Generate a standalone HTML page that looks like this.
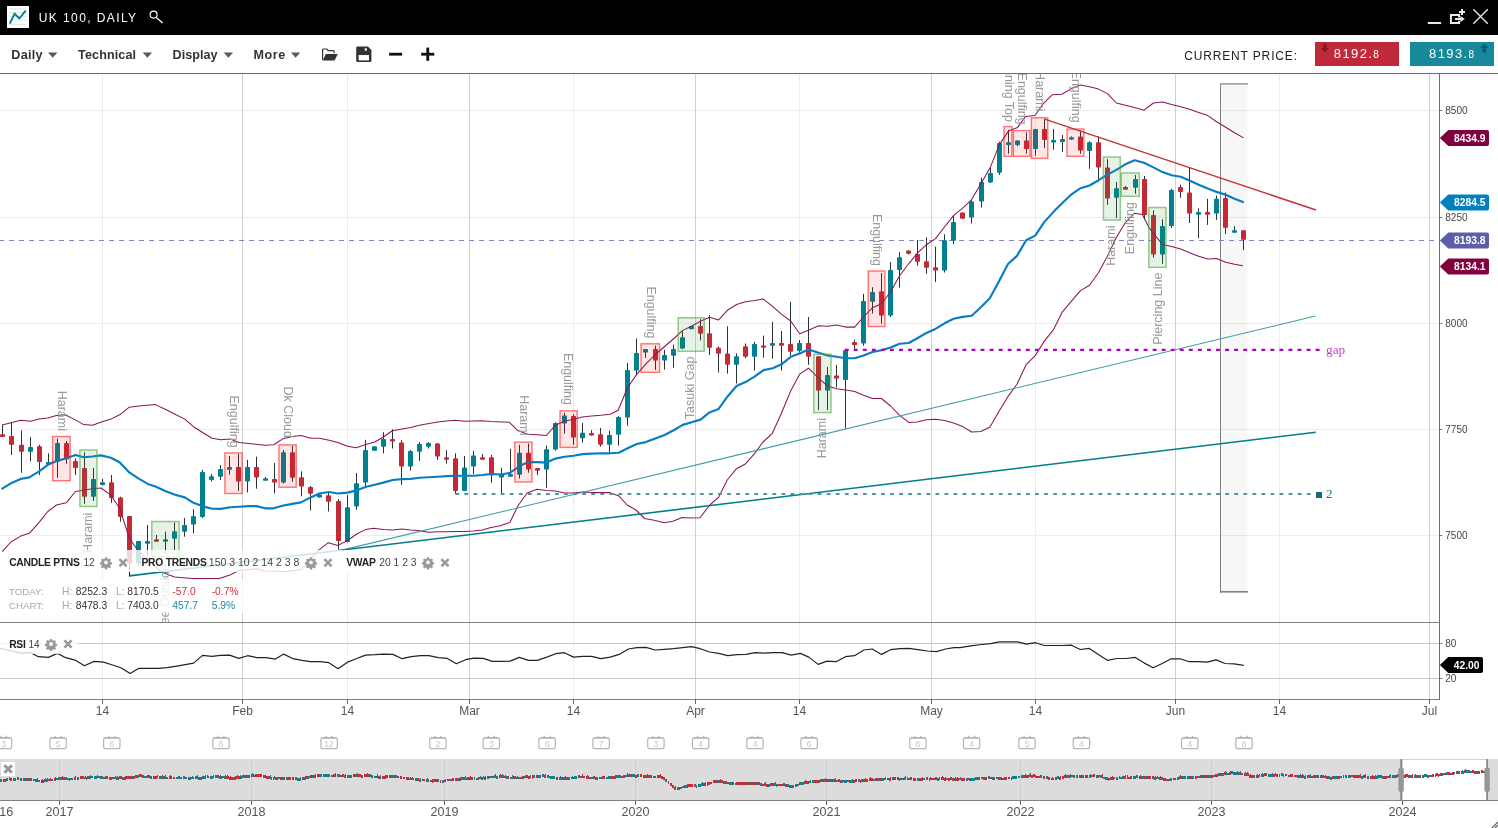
<!DOCTYPE html>
<html><head><meta charset="utf-8"><title>UK 100, DAILY</title>
<style>
html,body{margin:0;padding:0;background:#fff;}
body{width:1498px;height:828px;overflow:hidden;position:relative;font-family:"Liberation Sans",sans-serif;}
svg{position:absolute;left:0;top:0;display:block;will-change:transform;opacity:0.9999}
text{font-family:"Liberation Sans",sans-serif;}
.ser{font-family:"Liberation Serif",serif;}
</style></head><body>
<svg width="1498" height="828" viewBox="0 0 1498 828">
<defs>
<clipPath id="mainclip"><rect x="0" y="74" width="1440" height="548"/></clipPath>
<clipPath id="rsiclip"><rect x="0" y="623" width="1440" height="76"/></clipPath>
<g id="gear"><path transform="scale(0.82)" fill="#999" fill-rule="evenodd" d="M-1.2,-6.2h2.4l.4,1.7a4.6,4.6 0 0 1 1.3,.55l1.5,-.95 1.7,1.7-.95,1.5a4.6,4.6 0 0 1 .55,1.3l1.7,.4v2.4l-1.7,.4a4.6,4.6 0 0 1-.55,1.3l.95,1.5-1.7,1.7-1.5,-.95a4.6,4.6 0 0 1-1.3,.55l-.4,1.7h-2.4l-.4,-1.7a4.6,4.6 0 0 1-1.3,-.55l-1.5,.95-1.7,-1.7 .95,-1.5a4.6,4.6 0 0 1-.55,-1.3l-1.7,-.4v-2.4l1.7,-.4a4.6,4.6 0 0 1 .55,-1.3l-.95,-1.5 1.7,-1.7 1.5,.95a4.6,4.6 0 0 1 1.3,-.55zM0,-2.3a2.3,2.3 0 1 0 0,4.6a2.3,2.3 0 1 0 0,-4.6z"/></g>
<g id="xx"><path d="M-3.6,-3.6L3.6,3.6M3.6,-3.6L-3.6,3.6" stroke="#999" stroke-width="2.6" fill="none"/></g>
<g id="cal"><rect x="-8.2" y="-5.4" width="16.4" height="10.9" rx="2.2" ry="2.2" fill="#fff" stroke="#b6b6b6" stroke-width="1.2"/><path d="M-6.5,-5.2h13" stroke="#b6b6b6" stroke-width="1.8"/><path d="M-3,-5.5v-1.9M3,-5.5v-1.9" stroke="#b6b6b6" stroke-width="1.4"/></g>
</defs>

<rect x="0" y="0" width="1498" height="828" fill="#fff"/>
<rect x="0" y="110" width="1440" height="1" fill="#ededed"/>
<rect x="0" y="217" width="1440" height="1" fill="#ededed"/>
<rect x="0" y="323" width="1440" height="1" fill="#ededed"/>
<rect x="0" y="429" width="1440" height="1" fill="#ededed"/>
<rect x="0" y="535" width="1440" height="1" fill="#ededed"/>
<rect x="102" y="74" width="1" height="629" fill="#ededed"/>
<rect x="242" y="74" width="1" height="629" fill="#d0d0d0"/>
<rect x="347" y="74" width="1" height="629" fill="#ededed"/>
<rect x="469" y="74" width="1" height="629" fill="#d0d0d0"/>
<rect x="573" y="74" width="1" height="629" fill="#ededed"/>
<rect x="695" y="74" width="1" height="629" fill="#d0d0d0"/>
<rect x="799" y="74" width="1" height="629" fill="#ededed"/>
<rect x="931" y="74" width="1" height="629" fill="#d0d0d0"/>
<rect x="1035" y="74" width="1" height="629" fill="#ededed"/>
<rect x="1175" y="74" width="1" height="629" fill="#d0d0d0"/>
<rect x="1279" y="74" width="1" height="629" fill="#ededed"/>
<rect x="1429" y="74" width="1" height="629" fill="#d0d0d0"/>
<rect x="0" y="643" width="1440" height="1" fill="#c8c8c8"/>
<rect x="0" y="678" width="1440" height="1" fill="#c8c8c8"/>
<rect x="1220" y="83" width="27.5" height="509" fill="#000" fill-opacity="0.03"/>
<rect x="1220" y="83" width="1" height="510" fill="#808080"/>
<rect x="1220" y="83" width="27.9" height="1.8" fill="#a6a6a6"/>
<rect x="1220" y="591" width="27.9" height="1.6" fill="#808080"/>
<g clip-path="url(#mainclip)">
<line x1="-1" y1="240.5" x2="1434" y2="240.5" stroke="#8580c8" stroke-width="1.1" stroke-dasharray="5 5"/>
<rect x="2" y="424.6" width="1" height="11.9" fill="#2b3236"/>
<rect x="0" y="434.3" width="5" height="2.7" rx="0.7" fill="#c32a36"/>
<rect x="11" y="422.4" width="1" height="32.6" fill="#2b3236"/>
<rect x="9" y="436.0" width="5" height="8.8" rx="0.7" fill="#c32a36"/>
<rect x="21" y="430.4" width="1" height="42.4" fill="#2b3236"/>
<rect x="19" y="444.8" width="5" height="6.9" rx="0.7" fill="#c32a36"/>
<rect x="30" y="437.0" width="1" height="24.5" fill="#2b3236"/>
<rect x="28" y="447.0" width="5" height="4.7" rx="0.7" fill="#00808e"/>
<rect x="39" y="444.8" width="1" height="30.2" fill="#2b3236"/>
<rect x="37" y="446.3" width="5" height="15.7" rx="0.7" fill="#c32a36"/>
<rect x="48" y="453.3" width="1" height="11.9" fill="#2b3236"/>
<rect x="46" y="462.0" width="5" height="2.8" rx="0.7" fill="#00808e"/>
<rect x="57" y="438.7" width="1" height="39.1" fill="#2b3236"/>
<rect x="55" y="443.0" width="5" height="18.5" rx="0.7" fill="#00808e"/>
<rect x="66" y="440.9" width="1" height="22.8" fill="#2b3236"/>
<rect x="64" y="443.0" width="5" height="16.3" rx="0.7" fill="#c32a36"/>
<rect x="75" y="458.3" width="1" height="16.7" fill="#2b3236"/>
<rect x="73" y="461.0" width="5" height="7.0" rx="0.7" fill="#c32a36"/>
<rect x="84" y="452.4" width="1" height="51.5" fill="#2b3236"/>
<rect x="82" y="468.0" width="5" height="28.7" rx="0.7" fill="#c32a36"/>
<rect x="93" y="468.0" width="1" height="33.0" fill="#2b3236"/>
<rect x="91" y="479.0" width="5" height="17.7" rx="0.7" fill="#00808e"/>
<rect x="102" y="479.0" width="1" height="6.4" fill="#2b3236"/>
<rect x="100" y="482.2" width="5" height="2.8" rx="0.7" fill="#00808e"/>
<rect x="111" y="475.0" width="1" height="27.8" fill="#2b3236"/>
<rect x="109" y="482.2" width="5" height="15.8" rx="0.7" fill="#c32a36"/>
<rect x="120" y="496.7" width="1" height="25.0" fill="#2b3236"/>
<rect x="118" y="497.4" width="5" height="19.6" rx="0.7" fill="#c32a36"/>
<rect x="129" y="515.9" width="1" height="60.1" fill="#2b3236"/>
<rect x="127" y="515.9" width="5" height="47.5" rx="0.7" fill="#c32a36"/>
<rect x="138" y="540.9" width="1" height="25.1" fill="#2b3236"/>
<rect x="136" y="540.9" width="5" height="22.5" rx="0.7" fill="#00808e"/>
<rect x="147" y="525.0" width="1" height="30.9" fill="#2b3236"/>
<rect x="145" y="540.9" width="5" height="2.8" rx="0.7" fill="#00808e"/>
<rect x="156" y="535.0" width="1" height="6.7" fill="#2b3236"/>
<rect x="154" y="539.2" width="5" height="2.5" rx="0.7" fill="#c32a36"/>
<rect x="165" y="531.7" width="1" height="21.7" fill="#2b3236"/>
<rect x="163" y="539.2" width="5" height="2.5" rx="0.7" fill="#00808e"/>
<rect x="174" y="522.5" width="1" height="27.5" fill="#2b3236"/>
<rect x="172" y="531.2" width="5" height="7.5" rx="0.7" fill="#00808e"/>
<rect x="184" y="518.0" width="1" height="18.7" fill="#2b3236"/>
<rect x="182" y="525.0" width="5" height="6.7" rx="0.7" fill="#00808e"/>
<rect x="193" y="509.2" width="1" height="24.2" fill="#2b3236"/>
<rect x="191" y="516.2" width="5" height="8.3" rx="0.7" fill="#00808e"/>
<rect x="202" y="469.8" width="1" height="48.2" fill="#2b3236"/>
<rect x="200" y="472.0" width="5" height="45.0" rx="0.7" fill="#00808e"/>
<rect x="211" y="474.0" width="1" height="7.5" fill="#2b3236"/>
<rect x="209" y="476.3" width="5" height="3.7" rx="0.7" fill="#00808e"/>
<rect x="220" y="465.2" width="1" height="14.8" fill="#2b3236"/>
<rect x="218" y="469.0" width="5" height="7.7" rx="0.7" fill="#00808e"/>
<rect x="229" y="456.0" width="1" height="18.6" fill="#2b3236"/>
<rect x="227" y="467.0" width="5" height="2.8" rx="0.7" fill="#00808e"/>
<rect x="238" y="454.0" width="1" height="36.9" fill="#2b3236"/>
<rect x="236" y="467.0" width="5" height="14.5" rx="0.7" fill="#c32a36"/>
<rect x="247" y="459.8" width="1" height="32.6" fill="#2b3236"/>
<rect x="245" y="467.0" width="5" height="14.5" rx="0.7" fill="#00808e"/>
<rect x="256" y="456.7" width="1" height="32.0" fill="#2b3236"/>
<rect x="254" y="467.0" width="5" height="10.4" rx="0.7" fill="#c32a36"/>
<rect x="265" y="477.0" width="1" height="3.4" fill="#2b3236"/>
<rect x="263" y="478.3" width="5" height="2.4" rx="0.7" fill="#00808e"/>
<rect x="274" y="463.0" width="1" height="30.5" fill="#2b3236"/>
<rect x="272" y="479.0" width="5" height="3.6" rx="0.7" fill="#c32a36"/>
<rect x="283" y="450.0" width="1" height="33.7" fill="#2b3236"/>
<rect x="281" y="452.2" width="5" height="30.4" rx="0.7" fill="#00808e"/>
<rect x="292" y="445.9" width="1" height="35.8" fill="#2b3236"/>
<rect x="290" y="452.2" width="5" height="25.6" rx="0.7" fill="#c32a36"/>
<rect x="301" y="471.3" width="1" height="25.0" fill="#2b3236"/>
<rect x="299" y="477.2" width="5" height="9.3" rx="0.7" fill="#c32a36"/>
<rect x="310" y="486.0" width="1" height="24.4" fill="#2b3236"/>
<rect x="308" y="487.0" width="5" height="6.7" rx="0.7" fill="#c32a36"/>
<rect x="319" y="494.6" width="1" height="2.8" fill="#2b3236"/>
<rect x="317" y="494.6" width="5" height="2.8" rx="0.7" fill="#00808e"/>
<rect x="328" y="491.3" width="1" height="20.2" fill="#2b3236"/>
<rect x="326" y="495.2" width="5" height="6.5" rx="0.7" fill="#c32a36"/>
<rect x="338" y="499.0" width="1" height="50.6" fill="#2b3236"/>
<rect x="336" y="501.0" width="5" height="39.9" rx="0.7" fill="#c32a36"/>
<rect x="347" y="495.2" width="1" height="47.2" fill="#2b3236"/>
<rect x="345" y="507.2" width="5" height="34.8" rx="0.7" fill="#00808e"/>
<rect x="356" y="473.0" width="1" height="36.8" fill="#2b3236"/>
<rect x="354" y="483.3" width="5" height="23.2" rx="0.7" fill="#00808e"/>
<rect x="365" y="439.8" width="1" height="46.1" fill="#2b3236"/>
<rect x="363" y="450.0" width="5" height="32.6" rx="0.7" fill="#00808e"/>
<rect x="374" y="446.3" width="1" height="4.4" fill="#2b3236"/>
<rect x="372" y="446.3" width="5" height="4.4" rx="0.7" fill="#00808e"/>
<rect x="383" y="432.2" width="1" height="21.1" fill="#2b3236"/>
<rect x="381" y="439.0" width="5" height="7.7" rx="0.7" fill="#00808e"/>
<rect x="392" y="429.3" width="1" height="19.2" fill="#2b3236"/>
<rect x="390" y="439.0" width="5" height="2.5" rx="0.7" fill="#c32a36"/>
<rect x="401" y="440.2" width="1" height="44.6" fill="#2b3236"/>
<rect x="399" y="442.4" width="5" height="24.1" rx="0.7" fill="#c32a36"/>
<rect x="410" y="450.0" width="1" height="20.7" fill="#2b3236"/>
<rect x="408" y="451.0" width="5" height="15.5" rx="0.7" fill="#00808e"/>
<rect x="419" y="442.0" width="1" height="18.9" fill="#2b3236"/>
<rect x="417" y="444.0" width="5" height="7.7" rx="0.7" fill="#00808e"/>
<rect x="428" y="442.0" width="1" height="6.5" fill="#2b3236"/>
<rect x="426" y="443.0" width="5" height="3.7" rx="0.7" fill="#00808e"/>
<rect x="437" y="443.0" width="1" height="16.8" fill="#2b3236"/>
<rect x="435" y="443.5" width="5" height="13.0" rx="0.7" fill="#c32a36"/>
<rect x="446" y="450.2" width="1" height="13.5" fill="#2b3236"/>
<rect x="444" y="457.2" width="5" height="2.6" rx="0.7" fill="#c32a36"/>
<rect x="455" y="453.3" width="1" height="40.7" fill="#2b3236"/>
<rect x="453" y="458.3" width="5" height="32.6" rx="0.7" fill="#c32a36"/>
<rect x="464" y="456.0" width="1" height="34.9" fill="#2b3236"/>
<rect x="462" y="467.4" width="5" height="23.5" rx="0.7" fill="#00808e"/>
<rect x="473" y="451.0" width="1" height="23.0" fill="#2b3236"/>
<rect x="471" y="455.4" width="5" height="11.1" rx="0.7" fill="#00808e"/>
<rect x="482" y="454.0" width="1" height="5.3" fill="#2b3236"/>
<rect x="480" y="457.2" width="5" height="2.6" rx="0.7" fill="#c32a36"/>
<rect x="491" y="454.9" width="1" height="27.9" fill="#2b3236"/>
<rect x="489" y="457.3" width="5" height="18.0" rx="0.7" fill="#c32a36"/>
<rect x="501" y="467.9" width="1" height="26.1" fill="#2b3236"/>
<rect x="499" y="474.0" width="5" height="3.5" rx="0.7" fill="#00808e"/>
<rect x="510" y="448.8" width="1" height="27.9" fill="#2b3236"/>
<rect x="508" y="474.0" width="5" height="2.7" rx="0.7" fill="#00808e"/>
<rect x="519" y="444.8" width="1" height="33.7" fill="#2b3236"/>
<rect x="517" y="452.8" width="5" height="22.0" rx="0.7" fill="#00808e"/>
<rect x="528" y="443.5" width="1" height="29.2" fill="#2b3236"/>
<rect x="526" y="452.8" width="5" height="16.7" rx="0.7" fill="#c32a36"/>
<rect x="537" y="467.9" width="1" height="7.4" fill="#2b3236"/>
<rect x="535" y="467.9" width="5" height="2.9" rx="0.7" fill="#c32a36"/>
<rect x="546" y="445.6" width="1" height="42.2" fill="#2b3236"/>
<rect x="544" y="449.3" width="5" height="20.2" rx="0.7" fill="#00808e"/>
<rect x="555" y="422.2" width="1" height="28.4" fill="#2b3236"/>
<rect x="553" y="423.0" width="5" height="26.6" rx="0.7" fill="#00808e"/>
<rect x="564" y="412.9" width="1" height="20.7" fill="#2b3236"/>
<rect x="562" y="415.6" width="5" height="7.9" rx="0.7" fill="#00808e"/>
<rect x="573" y="414.2" width="1" height="30.6" fill="#2b3236"/>
<rect x="571" y="416.1" width="5" height="21.5" rx="0.7" fill="#c32a36"/>
<rect x="582" y="423.0" width="1" height="19.7" fill="#2b3236"/>
<rect x="580" y="432.8" width="5" height="5.4" rx="0.7" fill="#00808e"/>
<rect x="591" y="430.2" width="1" height="5.3" fill="#2b3236"/>
<rect x="589" y="433.1" width="5" height="2.4" rx="0.7" fill="#c32a36"/>
<rect x="600" y="428.0" width="1" height="18.7" fill="#2b3236"/>
<rect x="598" y="434.2" width="5" height="10.6" rx="0.7" fill="#c32a36"/>
<rect x="609" y="430.7" width="1" height="22.6" fill="#2b3236"/>
<rect x="607" y="435.0" width="5" height="9.8" rx="0.7" fill="#00808e"/>
<rect x="618" y="416.1" width="1" height="29.5" fill="#2b3236"/>
<rect x="616" y="416.9" width="5" height="17.8" rx="0.7" fill="#00808e"/>
<rect x="627" y="363.0" width="1" height="62.7" fill="#2b3236"/>
<rect x="625" y="369.9" width="5" height="47.5" rx="0.7" fill="#00808e"/>
<rect x="636" y="338.5" width="1" height="36.4" fill="#2b3236"/>
<rect x="634" y="353.1" width="5" height="17.3" rx="0.7" fill="#00808e"/>
<rect x="645" y="349.1" width="1" height="8.8" fill="#2b3236"/>
<rect x="643" y="349.1" width="5" height="3.5" rx="0.7" fill="#00808e"/>
<rect x="655" y="345.7" width="1" height="24.2" fill="#2b3236"/>
<rect x="653" y="349.1" width="5" height="11.5" rx="0.7" fill="#c32a36"/>
<rect x="664" y="349.9" width="1" height="19.7" fill="#2b3236"/>
<rect x="662" y="355.0" width="5" height="5.6" rx="0.7" fill="#00808e"/>
<rect x="673" y="344.6" width="1" height="23.1" fill="#2b3236"/>
<rect x="671" y="349.1" width="5" height="6.7" rx="0.7" fill="#00808e"/>
<rect x="682" y="331.3" width="1" height="17.8" fill="#2b3236"/>
<rect x="680" y="337.2" width="5" height="11.4" rx="0.7" fill="#00808e"/>
<rect x="691" y="326.0" width="1" height="3.2" fill="#2b3236"/>
<rect x="689" y="326.0" width="5" height="3.2" rx="0.7" fill="#00808e"/>
<rect x="700" y="319.1" width="1" height="21.3" fill="#2b3236"/>
<rect x="698" y="326.0" width="5" height="7.7" rx="0.7" fill="#c32a36"/>
<rect x="709" y="315.1" width="1" height="39.9" fill="#2b3236"/>
<rect x="707" y="333.2" width="5" height="14.6" rx="0.7" fill="#c32a36"/>
<rect x="718" y="346.5" width="1" height="26.0" fill="#2b3236"/>
<rect x="716" y="347.8" width="5" height="5.9" rx="0.7" fill="#c32a36"/>
<rect x="727" y="326.3" width="1" height="47.3" fill="#2b3236"/>
<rect x="725" y="353.4" width="5" height="11.4" rx="0.7" fill="#c32a36"/>
<rect x="736" y="353.4" width="1" height="30.0" fill="#2b3236"/>
<rect x="734" y="356.3" width="5" height="8.5" rx="0.7" fill="#00808e"/>
<rect x="745" y="343.5" width="1" height="14.7" fill="#2b3236"/>
<rect x="743" y="346.2" width="5" height="10.6" rx="0.7" fill="#c32a36"/>
<rect x="754" y="341.7" width="1" height="28.9" fill="#2b3236"/>
<rect x="752" y="344.0" width="5" height="12.8" rx="0.7" fill="#00808e"/>
<rect x="763" y="335.6" width="1" height="22.0" fill="#2b3236"/>
<rect x="761" y="345.4" width="5" height="2.4" rx="0.7" fill="#c32a36"/>
<rect x="772" y="321.8" width="1" height="36.9" fill="#2b3236"/>
<rect x="770" y="343.0" width="5" height="2.7" rx="0.7" fill="#00808e"/>
<rect x="781" y="331.0" width="1" height="39.6" fill="#2b3236"/>
<rect x="779" y="343.0" width="5" height="2.7" rx="0.7" fill="#c32a36"/>
<rect x="790" y="301.8" width="1" height="53.7" fill="#2b3236"/>
<rect x="788" y="344.0" width="5" height="7.8" rx="0.7" fill="#c32a36"/>
<rect x="799" y="340.0" width="1" height="12.8" fill="#2b3236"/>
<rect x="797" y="343.0" width="5" height="8.0" rx="0.7" fill="#00808e"/>
<rect x="808" y="317.0" width="1" height="47.8" fill="#2b3236"/>
<rect x="806" y="343.0" width="5" height="13.8" rx="0.7" fill="#c32a36"/>
<rect x="818" y="356.3" width="1" height="53.7" fill="#2b3236"/>
<rect x="816" y="356.3" width="5" height="34.3" rx="0.7" fill="#c32a36"/>
<rect x="827" y="366.9" width="1" height="43.1" fill="#2b3236"/>
<rect x="825" y="374.9" width="5" height="15.7" rx="0.7" fill="#00808e"/>
<rect x="836" y="364.8" width="1" height="22.6" fill="#2b3236"/>
<rect x="834" y="375.4" width="5" height="3.2" rx="0.7" fill="#c32a36"/>
<rect x="845" y="350.2" width="1" height="78.4" fill="#2b3236"/>
<rect x="843" y="350.2" width="5" height="29.7" rx="0.7" fill="#00808e"/>
<rect x="854" y="339.6" width="1" height="10.6" fill="#2b3236"/>
<rect x="852" y="341.9" width="5" height="3.0" rx="0.7" fill="#c32a36"/>
<rect x="863" y="293.9" width="1" height="51.8" fill="#2b3236"/>
<rect x="861" y="301.0" width="5" height="42.5" rx="0.7" fill="#00808e"/>
<rect x="872" y="287.2" width="1" height="26.3" fill="#2b3236"/>
<rect x="870" y="292.0" width="5" height="9.8" rx="0.7" fill="#00808e"/>
<rect x="881" y="273.1" width="1" height="50.5" fill="#2b3236"/>
<rect x="879" y="291.2" width="5" height="24.4" rx="0.7" fill="#c32a36"/>
<rect x="890" y="262.0" width="1" height="55.0" fill="#2b3236"/>
<rect x="888" y="270.0" width="5" height="45.6" rx="0.7" fill="#00808e"/>
<rect x="899" y="251.9" width="1" height="35.8" fill="#2b3236"/>
<rect x="897" y="257.2" width="5" height="12.8" rx="0.7" fill="#00808e"/>
<rect x="908" y="250.6" width="1" height="3.9" fill="#2b3236"/>
<rect x="906" y="250.6" width="5" height="3.1" rx="0.7" fill="#c32a36"/>
<rect x="917" y="239.9" width="1" height="25.8" fill="#2b3236"/>
<rect x="915" y="254.0" width="5" height="7.7" rx="0.7" fill="#c32a36"/>
<rect x="926" y="237.3" width="1" height="36.6" fill="#2b3236"/>
<rect x="924" y="261.2" width="5" height="6.6" rx="0.7" fill="#c32a36"/>
<rect x="935" y="246.6" width="1" height="35.3" fill="#2b3236"/>
<rect x="933" y="267.3" width="5" height="3.2" rx="0.7" fill="#c32a36"/>
<rect x="944" y="234.3" width="1" height="38.2" fill="#2b3236"/>
<rect x="942" y="240.3" width="5" height="30.2" rx="0.7" fill="#00808e"/>
<rect x="953" y="215.5" width="1" height="28.5" fill="#2b3236"/>
<rect x="951" y="221.9" width="5" height="18.9" rx="0.7" fill="#00808e"/>
<rect x="962" y="212.6" width="1" height="6.1" fill="#2b3236"/>
<rect x="960" y="212.6" width="5" height="6.1" rx="0.7" fill="#c32a36"/>
<rect x="971" y="199.6" width="1" height="23.9" fill="#2b3236"/>
<rect x="969" y="201.5" width="5" height="15.9" rx="0.7" fill="#00808e"/>
<rect x="981" y="177.6" width="1" height="30.0" fill="#2b3236"/>
<rect x="979" y="182.0" width="5" height="19.5" rx="0.7" fill="#00808e"/>
<rect x="990" y="167.7" width="1" height="15.2" fill="#2b3236"/>
<rect x="988" y="173.0" width="5" height="9.4" rx="0.7" fill="#00808e"/>
<rect x="999" y="141.7" width="1" height="33.2" fill="#2b3236"/>
<rect x="997" y="143.0" width="5" height="29.8" rx="0.7" fill="#00808e"/>
<rect x="1008" y="129.8" width="1" height="23.9" fill="#2b3236"/>
<rect x="1006" y="142.2" width="5" height="2.7" rx="0.7" fill="#00808e"/>
<rect x="1017" y="140.4" width="1" height="5.8" fill="#2b3236"/>
<rect x="1015" y="140.4" width="5" height="4.5" rx="0.7" fill="#00808e"/>
<rect x="1026" y="132.4" width="1" height="21.3" fill="#2b3236"/>
<rect x="1024" y="140.4" width="5" height="8.5" rx="0.7" fill="#c32a36"/>
<rect x="1035" y="129.0" width="1" height="26.5" fill="#2b3236"/>
<rect x="1033" y="129.0" width="5" height="19.9" rx="0.7" fill="#00808e"/>
<rect x="1044" y="119.1" width="1" height="28.7" fill="#2b3236"/>
<rect x="1042" y="129.0" width="5" height="10.9" rx="0.7" fill="#c32a36"/>
<rect x="1053" y="129.0" width="1" height="20.7" fill="#2b3236"/>
<rect x="1051" y="140.1" width="5" height="2.4" rx="0.7" fill="#00808e"/>
<rect x="1062" y="135.1" width="1" height="16.7" fill="#2b3236"/>
<rect x="1060" y="139.0" width="5" height="3.0" rx="0.7" fill="#00808e"/>
<rect x="1071" y="136.4" width="1" height="3.6" fill="#2b3236"/>
<rect x="1069" y="137.2" width="5" height="2.4" rx="0.7" fill="#00808e"/>
<rect x="1080" y="130.6" width="1" height="23.1" fill="#2b3236"/>
<rect x="1078" y="136.4" width="5" height="14.1" rx="0.7" fill="#c32a36"/>
<rect x="1089" y="141.2" width="1" height="27.6" fill="#2b3236"/>
<rect x="1087" y="142.2" width="5" height="8.8" rx="0.7" fill="#00808e"/>
<rect x="1098" y="136.4" width="1" height="45.2" fill="#2b3236"/>
<rect x="1096" y="142.2" width="5" height="25.3" rx="0.7" fill="#c32a36"/>
<rect x="1107" y="159.2" width="1" height="45.6" fill="#2b3236"/>
<rect x="1105" y="167.4" width="5" height="31.1" rx="0.7" fill="#c32a36"/>
<rect x="1116" y="182.0" width="1" height="36.0" fill="#2b3236"/>
<rect x="1114" y="188.3" width="5" height="9.4" rx="0.7" fill="#00808e"/>
<rect x="1125" y="186.0" width="1" height="3.8" fill="#2b3236"/>
<rect x="1123" y="186.9" width="5" height="2.9" rx="0.7" fill="#c32a36"/>
<rect x="1135" y="175.0" width="1" height="18.8" fill="#2b3236"/>
<rect x="1133" y="179.0" width="5" height="8.8" rx="0.7" fill="#00808e"/>
<rect x="1144" y="175.9" width="1" height="44.0" fill="#2b3236"/>
<rect x="1142" y="179.0" width="5" height="36.1" rx="0.7" fill="#c32a36"/>
<rect x="1153" y="210.4" width="1" height="47.2" fill="#2b3236"/>
<rect x="1151" y="215.1" width="5" height="39.3" rx="0.7" fill="#c32a36"/>
<rect x="1162" y="219.2" width="1" height="44.6" fill="#2b3236"/>
<rect x="1160" y="226.1" width="5" height="28.3" rx="0.7" fill="#00808e"/>
<rect x="1171" y="188.8" width="1" height="39.2" fill="#2b3236"/>
<rect x="1169" y="190.0" width="5" height="36.1" rx="0.7" fill="#00808e"/>
<rect x="1180" y="184.7" width="1" height="13.2" fill="#2b3236"/>
<rect x="1178" y="186.9" width="5" height="5.0" rx="0.7" fill="#c32a36"/>
<rect x="1189" y="168.0" width="1" height="55.0" fill="#2b3236"/>
<rect x="1187" y="192.5" width="5" height="21.1" rx="0.7" fill="#c32a36"/>
<rect x="1198" y="208.2" width="1" height="29.9" fill="#2b3236"/>
<rect x="1196" y="212.0" width="5" height="2.8" rx="0.7" fill="#00808e"/>
<rect x="1207" y="198.8" width="1" height="26.1" fill="#2b3236"/>
<rect x="1205" y="212.0" width="5" height="2.8" rx="0.7" fill="#c32a36"/>
<rect x="1216" y="195.7" width="1" height="24.2" fill="#2b3236"/>
<rect x="1214" y="198.8" width="5" height="14.8" rx="0.7" fill="#00808e"/>
<rect x="1225" y="192.5" width="1" height="41.5" fill="#2b3236"/>
<rect x="1223" y="197.9" width="5" height="29.8" rx="0.7" fill="#c32a36"/>
<rect x="1234" y="226.1" width="1" height="6.6" fill="#2b3236"/>
<rect x="1232" y="230.2" width="5" height="2.5" rx="0.7" fill="#00808e"/>
<rect x="1243" y="230.2" width="1" height="19.8" fill="#2b3236"/>
<rect x="1241" y="230.2" width="5" height="9.5" rx="0.7" fill="#c32a36"/>
<polyline points="2.2,488.7 10.9,483.3 20.7,478.9 29.3,477.4 39.1,471.3 47.8,464.8 56.5,461.1 66.3,458.3 75.4,455.0 83.7,457.2 92.4,456.5 101.1,455.4 110.9,457.8 119.6,462.2 129.3,472.4 139.1,478.9 147.8,483.9 155.4,486.5 165.2,490.9 175.0,494.8 184.8,497.4 193.5,502.8 202.2,506.1 212.0,508.7 220.7,508.9 230.4,507.2 239.1,506.7 248.7,506.1 256.3,506.1 265.0,508.3 273.7,508.3 282.4,505.7 292.2,503.9 300.9,502.4 310.7,497.4 319.3,493.5 329.1,492.0 337.8,493.5 347.6,492.6 356.3,490.4 365.4,487.0 374.8,484.8 383.5,482.6 392.6,480.0 402.0,479.1 410.7,478.9 419.6,477.8 428.5,477.2 437.8,476.7 446.5,476.1 455.4,475.7 464.6,475.7 473.5,475.7 482.4,475.0 491.4,474.0 501.5,474.5 510.3,472.7 519.6,466.0 528.4,462.1 537.4,462.1 546.4,462.6 555.5,458.6 564.5,456.7 573.5,455.7 582.6,454.1 591.6,453.6 600.6,453.3 609.7,453.3 618.7,452.8 627.7,448.2 636.7,444.0 645.8,442.1 655.9,438.2 664.6,435.0 673.7,430.2 682.7,424.9 691.7,422.2 700.5,419.6 709.5,412.4 718.6,408.9 727.4,396.7 736.5,386.0 745.5,382.1 754.5,376.7 763.6,370.1 772.6,368.2 781.6,364.3 790.7,356.8 799.7,353.6 808.5,349.6 818.6,352.8 827.6,355.5 836.6,356.8 845.7,358.2 854.7,358.2 863.5,355.5 872.5,352.0 881.5,350.2 890.6,347.5 899.6,343.8 908.6,343.0 917.4,338.2 926.4,332.9 935.5,328.9 944.5,323.3 953.6,318.7 962.7,316.9 971.7,315.7 980.8,307.3 989.8,298.2 998.9,281.6 1008.0,264.0 1017.0,255.9 1026.1,240.2 1035.2,235.6 1044.2,222.1 1053.3,212.1 1062.4,203.0 1071.5,194.3 1080.5,188.2 1089.5,185.5 1098.6,180.2 1107.5,174.6 1116.3,169.9 1125.4,164.3 1134.6,160.2 1144.0,162.7 1153.4,167.4 1162.5,172.1 1171.6,175.2 1180.7,176.8 1189.5,180.6 1198.6,184.7 1207.8,188.4 1216.6,191.9 1225.7,194.7 1234.5,198.8 1243.0,202.0" fill="none" stroke="#087dc3" stroke-width="2.15" stroke-linejoin="round" stroke-linecap="round"/>
<polyline points="2.2,425.0 20.7,420.2 30.4,421.3 39.1,419.1 47.8,418.0 56.5,415.4 65.2,414.8 73.9,419.1 83.7,424.6 92.4,425.2 102.2,421.7 110.9,419.1 119.6,414.8 129.3,407.2 141.3,405.7 155.4,404.6 165.2,409.3 175.0,414.3 184.8,419.1 193.5,426.7 202.2,432.2 212.0,438.3 220.7,439.8 230.4,439.1 239.1,442.4 248.7,443.5 265.0,445.2 273.7,444.8 282.4,439.1 292.2,436.5 300.9,435.4 310.7,438.3 319.3,438.3 329.1,440.2 337.8,442.6 347.6,446.3 356.3,447.8 365.0,444.8 374.8,442.0 383.5,437.0 392.2,430.7 402.0,428.9 410.7,427.4 419.3,425.2 429.1,423.5 437.8,422.0 446.5,420.9 455.2,420.2 465.0,421.3 473.7,420.9 482.4,420.7 490.6,421.4 509.2,422.2 517.2,430.2 527.8,434.2 537.1,434.7 546.4,435.5 555.7,424.9 565.0,420.9 573.0,419.6 582.3,416.9 591.6,416.1 600.9,415.3 610.2,414.2 618.2,410.3 627.5,387.7 636.7,374.4 646.0,363.8 655.3,354.5 664.6,346.5 673.9,338.5 682.4,330.6 691.7,326.0 700.5,321.3 709.5,317.3 718.6,319.9 727.4,310.3 736.5,304.5 745.5,301.8 754.5,300.5 763.0,298.9 772.6,306.3 781.6,314.3 790.7,321.0 799.7,333.7 808.5,330.3 818.6,325.7 827.6,326.3 836.6,324.9 845.7,327.1 854.7,327.1 863.5,317.0 872.5,307.7 881.5,303.7 890.6,291.7 899.6,275.8 908.6,263.8 917.4,253.2 926.4,244.7 935.5,238.6 944.5,227.0 953.5,215.6 962.6,208.1 971.3,200.1 981.4,182.9 990.5,166.9 999.5,144.4 1008.5,131.1 1017.6,127.4 1025.6,116.4 1035.0,115.5 1043.6,103.3 1052.4,94.7 1061.8,94.2 1071.5,88.6 1080.5,85.1 1089.5,86.7 1098.6,89.1 1107.5,93.6 1116.3,103.0 1125.4,105.2 1135.5,107.7 1144.0,110.2 1153.4,103.0 1162.5,102.0 1171.6,104.6 1180.7,106.8 1189.5,109.3 1198.6,112.4 1207.8,115.6 1216.6,121.8 1225.7,127.2 1234.5,132.8 1243.6,137.9" fill="none" stroke="#8a1759" stroke-width="1.05" stroke-linejoin="round"/>
<polyline points="2.2,551.7 10.9,542.0 20.7,536.1 29.3,533.3 39.1,522.4 47.8,511.5 56.5,505.0 66.3,502.8 75.4,491.5 83.7,490.2 92.4,488.7 101.1,488.0 110.9,495.2 119.6,508.3 129.3,538.0 136.0,547.8 147.2,559.0 156.0,567.0 161.7,571.9 174.5,577.0 192.1,578.6 219.4,578.6 230.6,574.7 238.6,570.6 256.2,568.7 264.2,571.1 285.1,571.5 301.1,569.5 310.7,559.0 318.7,550.2 328.3,542.7 337.9,545.4 347.6,540.5 356.3,534.3 365.4,529.6 373.7,528.3 383.5,529.6 392.6,530.0 402.0,528.9 410.7,530.0 419.6,530.7 428.5,532.2 437.8,531.7 446.5,531.7 455.4,531.5 464.6,531.5 473.5,531.1 482.4,530.0 490.0,527.8 500.0,525.7 509.8,522.4 518.5,505.0 527.2,493.0 537.0,489.3 546.3,490.4 555.4,490.9 564.6,493.0 573.5,493.0 582.6,492.0 591.3,492.6 600.4,492.6 609.3,492.6 618.5,495.7 627.2,505.0 635.9,510.0 644.6,518.5 654.3,520.2 664.1,522.8 672.8,521.3 682.2,517.4 691.3,518.0 700.0,517.8 709.8,505.0 718.5,497.4 727.2,480.0 736.5,468.7 745.7,463.7 754.3,453.9 763.0,442.0 772.4,433.3 781.5,413.0 790.7,391.0 799.7,374.1 808.5,368.2 818.6,378.1 827.6,386.0 836.6,388.7 845.7,390.0 854.7,391.4 863.5,395.3 872.5,398.5 881.5,398.5 890.6,406.0 899.6,415.3 908.6,422.4 917.4,421.9 926.4,419.8 935.5,419.3 944.5,420.5 953.6,423.0 962.7,426.6 971.7,432.0 980.8,431.4 989.8,427.2 998.9,411.5 1008.0,396.4 1017.0,384.3 1026.1,364.7 1035.2,355.6 1044.2,341.4 1053.3,329.9 1062.4,311.8 1071.4,301.2 1080.5,290.6 1089.5,285.2 1098.6,272.5 1107.5,256.0 1116.3,237.5 1125.4,222.5 1134.6,213.2 1142.4,214.5 1148.7,227.1 1153.4,233.4 1162.5,244.4 1171.6,246.6 1180.7,249.1 1189.5,252.8 1198.6,256.3 1207.8,259.1 1216.6,258.5 1225.7,262.3 1234.5,264.2 1243.0,265.7" fill="none" stroke="#8a1759" stroke-width="1.05" stroke-linejoin="round"/>
<rect x="52.7" y="436.5" width="17.4" height="44.2" fill="rgba(255,0,0,0.10)" stroke="rgba(255,20,20,0.58)" stroke-width="1.4"/>
<rect x="79.9" y="450.0" width="17.0" height="56.5" fill="rgba(60,150,50,0.12)" stroke="rgba(80,170,70,0.62)" stroke-width="1.5"/>
<rect x="151.8" y="521.5" width="27.3" height="35.2" fill="rgba(60,150,50,0.12)" stroke="rgba(80,170,70,0.62)" stroke-width="1.5"/>
<rect x="224.9" y="452.9" width="17.2" height="40.6" fill="rgba(255,0,0,0.10)" stroke="rgba(255,20,20,0.58)" stroke-width="1.4"/>
<rect x="279.0" y="444.9" width="17.2" height="42.3" fill="rgba(255,0,0,0.10)" stroke="rgba(255,20,20,0.58)" stroke-width="1.4"/>
<rect x="514.8" y="442.1" width="17.2" height="39.9" fill="rgba(255,0,0,0.10)" stroke="rgba(255,20,20,0.58)" stroke-width="1.4"/>
<rect x="560.0" y="410.8" width="17.2" height="36.6" fill="rgba(255,0,0,0.10)" stroke="rgba(255,20,20,0.58)" stroke-width="1.4"/>
<rect x="641.0" y="343.8" width="18.6" height="28.5" fill="rgba(255,0,0,0.10)" stroke="rgba(255,20,20,0.58)" stroke-width="1.4"/>
<rect x="678.2" y="317.8" width="26.0" height="33.5" fill="rgba(60,150,50,0.12)" stroke="rgba(80,170,70,0.62)" stroke-width="1.5"/>
<rect x="813.8" y="354.2" width="17.2" height="58.4" fill="rgba(60,150,50,0.12)" stroke="rgba(80,170,70,0.62)" stroke-width="1.5"/>
<rect x="868.2" y="271.0" width="16.7" height="55.5" fill="rgba(255,0,0,0.10)" stroke="rgba(255,20,20,0.58)" stroke-width="1.4"/>
<rect x="1004.0" y="126.6" width="7.9" height="29.7" fill="rgba(255,0,0,0.10)" stroke="rgba(255,20,20,0.58)" stroke-width="1.4"/>
<rect x="1013.3" y="130.6" width="16.7" height="25.7" fill="rgba(255,0,0,0.10)" stroke="rgba(255,20,20,0.58)" stroke-width="1.4"/>
<rect x="1031.4" y="117.8" width="16.4" height="40.6" fill="rgba(255,0,0,0.10)" stroke="rgba(255,20,20,0.58)" stroke-width="1.4"/>
<rect x="1067.0" y="129.0" width="16.9" height="27.3" fill="rgba(255,0,0,0.10)" stroke="rgba(255,20,20,0.58)" stroke-width="1.4"/>
<rect x="1103.4" y="157.1" width="16.9" height="62.9" fill="rgba(60,150,50,0.12)" stroke="rgba(80,170,70,0.62)" stroke-width="1.5"/>
<rect x="1121.2" y="173.0" width="18.1" height="23.3" fill="rgba(60,150,50,0.12)" stroke="rgba(80,170,70,0.62)" stroke-width="1.5"/>
<rect x="1148.8" y="207.5" width="17.2" height="59.8" fill="rgba(60,150,50,0.12)" stroke="rgba(80,170,70,0.62)" stroke-width="1.5"/>
<text transform="translate(57.7,431.0) rotate(90)" text-anchor="end" font-size="12.5" fill="#9a9a9a">Harami</text>
<text transform="translate(92.3,512.6) rotate(-90)" text-anchor="end" font-size="12.5" fill="#9a9a9a">Harami</text>
<text transform="translate(168.7,564.0) rotate(-90)" text-anchor="end" font-size="12.5" fill="#9a9a9a">Three Outside</text>
<text transform="translate(230.2,447.6) rotate(90)" text-anchor="end" font-size="12.5" fill="#9a9a9a">Engulfing</text>
<text transform="translate(284.0,437.9) rotate(90)" text-anchor="end" font-size="12.5" fill="#9a9a9a">Dk Cloud</text>
<text transform="translate(519.5,435.5) rotate(90)" text-anchor="end" font-size="12.5" fill="#9a9a9a">Harami</text>
<text transform="translate(564.2,405.0) rotate(90)" text-anchor="end" font-size="12.5" fill="#9a9a9a">Engulfing</text>
<text transform="translate(646.9,338.5) rotate(90)" text-anchor="end" font-size="12.5" fill="#9a9a9a">Engulfing</text>
<text transform="translate(694.1,356.6) rotate(-90)" text-anchor="end" font-size="12.5" fill="#9a9a9a">Tasuki Gap</text>
<text transform="translate(826.3,418.0) rotate(-90)" text-anchor="end" font-size="12.5" fill="#9a9a9a">Harami</text>
<text transform="translate(872.7,266.0) rotate(90)" text-anchor="end" font-size="12.5" fill="#9a9a9a">Engulfing</text>
<text transform="translate(1005.2,122.0) rotate(90)" text-anchor="end" font-size="12.5" fill="#9a9a9a">Spinning Top</text>
<text transform="translate(1017.9,124.7) rotate(90)" text-anchor="end" font-size="12.5" fill="#9a9a9a">Engulfing</text>
<text transform="translate(1035.7,111.4) rotate(90)" text-anchor="end" font-size="12.5" fill="#9a9a9a">Harami</text>
<text transform="translate(1071.8,122.7) rotate(90)" text-anchor="end" font-size="12.5" fill="#9a9a9a">Engulfing</text>
<text transform="translate(1115.3,225.5) rotate(-90)" text-anchor="end" font-size="12.5" fill="#9a9a9a">Harami</text>
<text transform="translate(1134.1,202.0) rotate(-90)" text-anchor="end" font-size="12.5" fill="#9a9a9a">Engulfing</text>
<text transform="translate(1162.3,272.6) rotate(-90)" text-anchor="end" font-size="12.5" fill="#9a9a9a">Piercing Line</text>
<line x1="340" y1="550.6" x2="1315.5" y2="316" stroke="#3d9ba6" stroke-width="1.1"/>
<line x1="129.3" y1="575.9" x2="1315.8" y2="432.2" stroke="#007d8c" stroke-width="1.6"/>
<line x1="129.5" y1="563" x2="129.5" y2="576.5" stroke="#222" stroke-width="1"/>
<line x1="455.4" y1="494" x2="1312" y2="494" stroke="#4a98a0" stroke-width="2" stroke-dasharray="3.8 5.257"/>
<rect x="1316" y="492" width="6" height="6" fill="#0f6e7a"/>
<line x1="844.7" y1="349.9" x2="1321" y2="349.9" stroke="#aa00be" stroke-width="2.1" stroke-dasharray="3.9 5.157"/>
<line x1="1044.6" y1="119.1" x2="1316" y2="210" stroke="#c9323d" stroke-width="1.5"/>
<rect x="5" y="550" width="448" height="22" fill="#fff" fill-opacity="0.8"/>
<rect x="0" y="579" width="246" height="34" fill="#fff" fill-opacity="0.8"/>
</g>
<text class="ser" x="1326" y="354.2" font-size="13.3" fill="#c83cd2">gap</text>
<text class="ser" x="1326" y="498" font-size="13" fill="#14787f">2</text>
<text x="9.2" y="566.0" font-size="10.3" fill="#222" font-weight="bold" letter-spacing="-0.25" text-anchor="start">CANDLE PTNS</text>
<text x="83.4" y="566.0" font-size="10" fill="#444" text-anchor="start">12</text>
<use href="#gear" x="106" y="562.4"/>
<use href="#xx" x="123" y="562.7"/>
<text x="141.5" y="566.0" font-size="10.3" fill="#222" font-weight="bold" letter-spacing="-0.25" text-anchor="start">PRO TRENDS</text>
<text x="208.8" y="566.0" font-size="10.5" fill="#444" text-anchor="start">150 3 10 2 14 2 3 8</text>
<use href="#gear" x="311" y="562.4"/>
<use href="#xx" x="328" y="562.7"/>
<text x="346.2" y="566.0" font-size="10.3" fill="#222" font-weight="bold" letter-spacing="-0.25" text-anchor="start">VWAP</text>
<text x="379.3" y="566.0" font-size="10.3" fill="#444" text-anchor="start">20 1 2 3</text>
<use href="#gear" x="428" y="562.4"/>
<use href="#xx" x="445" y="562.7"/>
<text x="9.0" y="595.3" font-size="9.7" fill="#aaa" text-anchor="start">TODAY:</text>
<text x="62.0" y="595.3" font-size="10.3" fill="#aaa" text-anchor="start">H:</text>
<text x="75.7" y="595.3" font-size="10.3" fill="#333" text-anchor="start">8252.3</text>
<text x="116.0" y="595.3" font-size="10.3" fill="#aaa" text-anchor="start">L:</text>
<text x="127.3" y="595.3" font-size="10.3" fill="#333" text-anchor="start">8170.5</text>
<text x="172.3" y="595.3" font-size="10.3" fill="#d0303c" text-anchor="start">-57.0</text>
<text x="211.7" y="595.3" font-size="10.3" fill="#d0303c" text-anchor="start">-0.7%</text>
<text x="9.0" y="608.7" font-size="9.7" fill="#aaa" text-anchor="start">CHART:</text>
<text x="62.0" y="608.7" font-size="10.3" fill="#aaa" text-anchor="start">H:</text>
<text x="75.7" y="608.7" font-size="10.3" fill="#333" text-anchor="start">8478.3</text>
<text x="116.0" y="608.7" font-size="10.3" fill="#aaa" text-anchor="start">L:</text>
<text x="127.3" y="608.7" font-size="10.3" fill="#333" text-anchor="start">7403.0</text>
<text x="172.3" y="608.7" font-size="10.3" fill="#1a8a9a" text-anchor="start">457.7</text>
<text x="211.7" y="608.7" font-size="10.3" fill="#1a8a9a" text-anchor="start">5.9%</text>
<rect x="0" y="73" width="1498" height="1" fill="#6e6e6e"/>
<rect x="0" y="622" width="1440" height="1" fill="#808080"/>
<rect x="0" y="699" width="1440" height="1" fill="#808080"/>
<rect x="1439" y="74" width="1" height="626" fill="#6e6e6e"/>
<g clip-path="url(#rsiclip)">
<polyline points="0.0,648.4 3.3,649.0 11.7,651.0 21.7,653.4 30.0,652.4 38.4,656.7 48.4,657.4 57.4,653.4 65.8,657.7 75.1,660.1 84.4,665.7 94.1,661.4 103.5,662.1 111.8,664.7 120.8,667.7 130.2,673.4 138.5,668.4 148.5,668.4 158.5,668.4 166.9,667.7 176.9,666.1 185.2,664.7 193.6,663.1 202.6,655.4 211.9,656.4 220.3,655.4 229.6,655.1 238.7,658.4 247.7,655.7 257.0,657.7 266.0,657.7 275.4,659.1 283.7,654.1 293.1,658.7 302.1,660.4 310.4,661.7 320.4,661.7 328.8,662.7 338.1,668.7 347.1,662.4 356.1,658.7 365.5,655.1 374.8,654.7 383.8,654.1 392.9,654.4 402.2,658.7 411.2,656.7 420.6,655.7 428.9,655.7 438.3,657.7 447.3,658.4 456.3,663.7 465.6,659.7 474.0,658.1 483.3,658.4 492.3,661.4 501.7,661.4 510.0,661.1 519.4,657.4 528.4,660.4 537.4,660.4 546.8,657.1 555.8,653.7 564.4,652.7 573.5,657.1 582.8,656.4 591.8,656.4 600.8,658.7 610.2,657.1 619.2,654.4 628.5,649.0 636.9,647.7 645.9,647.4 655.2,650.0 664.2,649.4 673.6,648.7 682.6,647.7 691.3,646.7 700.3,648.7 709.6,652.0 718.7,653.4 727.7,655.7 737.0,654.7 746.0,654.4 755.4,652.7 763.7,653.1 773.1,652.7 782.1,652.7 791.1,655.1 800.4,653.4 808.8,657.1 818.1,664.4 827.1,661.1 836.1,661.7 845.5,656.7 854.5,655.7 863.8,650.0 872.2,649.0 881.5,654.4 890.5,649.7 899.9,648.7 908.9,648.4 917.9,649.7 927.3,651.0 936.3,651.7 945.6,649.0 954.0,647.7 960.0,647.7 970.8,645.9 981.6,644.5 990.5,643.7 999.5,641.9 1008.5,641.9 1017.5,641.9 1026.5,644.1 1035.4,642.7 1044.4,645.5 1053.4,645.5 1062.4,645.5 1071.4,645.2 1080.3,649.5 1089.3,648.4 1098.3,654.5 1107.3,660.3 1117.0,658.5 1125.9,658.5 1135.3,657.4 1144.3,663.1 1153.2,667.8 1162.2,663.5 1171.2,658.8 1180.2,658.8 1189.2,661.7 1198.1,661.7 1207.1,662.1 1216.1,659.9 1225.1,663.5 1234.1,663.9 1243.8,665.3" fill="none" stroke="#222" stroke-width="1.2" stroke-linejoin="round"/>
<rect x="0" y="634" width="78" height="20" fill="#fff" fill-opacity="0.8"/>
</g>
<text x="9.2" y="647.6" font-size="10.3" fill="#222" font-weight="bold" letter-spacing="-0.25" text-anchor="start">RSI</text>
<text x="28.5" y="647.6" font-size="10" fill="#444" text-anchor="start">14</text>
<use href="#gear" x="51" y="644"/>
<use href="#xx" x="68" y="644"/>
<rect x="1440" y="110" width="2.5" height="1" fill="#808080"/>
<text x="1445.3" y="113.6" font-size="10" fill="#444">8500</text>
<rect x="1440" y="217" width="2.5" height="1" fill="#808080"/>
<text x="1445.3" y="220.6" font-size="10" fill="#444">8250</text>
<rect x="1440" y="323" width="2.5" height="1" fill="#808080"/>
<text x="1445.3" y="326.6" font-size="10" fill="#444">8000</text>
<rect x="1440" y="429" width="2.5" height="1" fill="#808080"/>
<text x="1445.3" y="432.6" font-size="10" fill="#444">7750</text>
<rect x="1440" y="535" width="2.5" height="1" fill="#808080"/>
<text x="1445.3" y="538.6" font-size="10" fill="#444">7500</text>
<rect x="1440" y="643" width="2.5" height="1" fill="#808080"/>
<text x="1445.3" y="646.6" font-size="10" fill="#444">80</text>
<rect x="1440" y="678" width="2.5" height="1" fill="#808080"/>
<text x="1445.3" y="681.6" font-size="10" fill="#444">20</text>
<path d="M1439.9,138.0 L1448.3,130.0 H1487.0 a2,2 0 0 1 2,2 V144.0 a2,2 0 0 1 -2,2 H1448.3 Z" fill="#80003e"/>
<text x="1485.5" y="141.6" font-size="10.3" font-weight="bold" fill="#fff" text-anchor="end">8434.9</text>
<path d="M1439.9,202.4 L1448.3,194.4 H1487.0 a2,2 0 0 1 2,2 V208.4 a2,2 0 0 1 -2,2 H1448.3 Z" fill="#0080c0"/>
<text x="1485.5" y="206.0" font-size="10.3" font-weight="bold" fill="#fff" text-anchor="end">8284.5</text>
<path d="M1439.9,240.4 L1448.3,232.4 H1487.0 a2,2 0 0 1 2,2 V246.4 a2,2 0 0 1 -2,2 H1448.3 Z" fill="#5f5ca8"/>
<text x="1485.5" y="244.0" font-size="10.3" font-weight="bold" fill="#fff" text-anchor="end">8193.8</text>
<path d="M1439.9,266.6 L1448.3,258.6 H1487.0 a2,2 0 0 1 2,2 V272.6 a2,2 0 0 1 -2,2 H1448.3 Z" fill="#80003e"/>
<text x="1485.5" y="270.2" font-size="10.3" font-weight="bold" fill="#fff" text-anchor="end">8134.1</text>
<path d="M1439.9,665.0 L1448.3,657.0 H1481.0 a2,2 0 0 1 2,2 V671.0 a2,2 0 0 1 -2,2 H1448.3 Z" fill="#000"/>
<text x="1479.5" y="668.6" font-size="10.3" font-weight="bold" fill="#fff" text-anchor="end">42.00</text>
<rect x="102" y="699" width="1" height="5" fill="#666"/>
<text x="102.5" y="715.2" font-size="12" fill="#555" text-anchor="middle">14</text>
<rect x="242" y="699" width="1" height="5" fill="#666"/>
<text x="242.5" y="715.2" font-size="12" fill="#555" text-anchor="middle">Feb</text>
<rect x="347" y="699" width="1" height="5" fill="#666"/>
<text x="347.5" y="715.2" font-size="12" fill="#555" text-anchor="middle">14</text>
<rect x="469" y="699" width="1" height="5" fill="#666"/>
<text x="469.5" y="715.2" font-size="12" fill="#555" text-anchor="middle">Mar</text>
<rect x="573" y="699" width="1" height="5" fill="#666"/>
<text x="573.5" y="715.2" font-size="12" fill="#555" text-anchor="middle">14</text>
<rect x="695" y="699" width="1" height="5" fill="#666"/>
<text x="695.5" y="715.2" font-size="12" fill="#555" text-anchor="middle">Apr</text>
<rect x="799" y="699" width="1" height="5" fill="#666"/>
<text x="799.5" y="715.2" font-size="12" fill="#555" text-anchor="middle">14</text>
<rect x="931" y="699" width="1" height="5" fill="#666"/>
<text x="931.5" y="715.2" font-size="12" fill="#555" text-anchor="middle">May</text>
<rect x="1035" y="699" width="1" height="5" fill="#666"/>
<text x="1035.5" y="715.2" font-size="12" fill="#555" text-anchor="middle">14</text>
<rect x="1175" y="699" width="1" height="5" fill="#666"/>
<text x="1175.5" y="715.2" font-size="12" fill="#555" text-anchor="middle">Jun</text>
<rect x="1279" y="699" width="1" height="5" fill="#666"/>
<text x="1279.5" y="715.2" font-size="12" fill="#555" text-anchor="middle">14</text>
<rect x="1429" y="699" width="1" height="5" fill="#666"/>
<text x="1429.5" y="715.2" font-size="12" fill="#555" text-anchor="middle">Jul</text>
<use href="#cal" x="3.5" y="743.1"/>
<text x="3.5" y="747.2" font-size="8.5" fill="#c6c6c6" text-anchor="middle">3</text>
<use href="#cal" x="58.1" y="743.1"/>
<text x="58.1" y="747.2" font-size="8.5" fill="#c6c6c6" text-anchor="middle">5</text>
<use href="#cal" x="111.8" y="743.1"/>
<text x="111.8" y="747.2" font-size="8.5" fill="#c6c6c6" text-anchor="middle">6</text>
<use href="#cal" x="221.0" y="743.1"/>
<text x="221.0" y="747.2" font-size="8.5" fill="#c6c6c6" text-anchor="middle">6</text>
<use href="#cal" x="329.1" y="743.1"/>
<text x="329.1" y="747.2" font-size="8.5" fill="#c6c6c6" text-anchor="middle">12</text>
<use href="#cal" x="437.9" y="743.1"/>
<text x="437.9" y="747.2" font-size="8.5" fill="#c6c6c6" text-anchor="middle">2</text>
<use href="#cal" x="491.3" y="743.1"/>
<text x="491.3" y="747.2" font-size="8.5" fill="#c6c6c6" text-anchor="middle">3</text>
<use href="#cal" x="547.1" y="743.1"/>
<text x="547.1" y="747.2" font-size="8.5" fill="#c6c6c6" text-anchor="middle">6</text>
<use href="#cal" x="601.1" y="743.1"/>
<text x="601.1" y="747.2" font-size="8.5" fill="#c6c6c6" text-anchor="middle">7</text>
<use href="#cal" x="655.9" y="743.1"/>
<text x="655.9" y="747.2" font-size="8.5" fill="#c6c6c6" text-anchor="middle">3</text>
<use href="#cal" x="700.6" y="743.1"/>
<text x="700.6" y="747.2" font-size="8.5" fill="#c6c6c6" text-anchor="middle">4</text>
<use href="#cal" x="755.0" y="743.1"/>
<text x="755.0" y="747.2" font-size="8.5" fill="#c6c6c6" text-anchor="middle">4</text>
<use href="#cal" x="809.1" y="743.1"/>
<text x="809.1" y="747.2" font-size="8.5" fill="#c6c6c6" text-anchor="middle">6</text>
<use href="#cal" x="917.9" y="743.1"/>
<text x="917.9" y="747.2" font-size="8.5" fill="#c6c6c6" text-anchor="middle">6</text>
<use href="#cal" x="971.6" y="743.1"/>
<text x="971.6" y="747.2" font-size="8.5" fill="#c6c6c6" text-anchor="middle">4</text>
<use href="#cal" x="1027.0" y="743.1"/>
<text x="1027.0" y="747.2" font-size="8.5" fill="#c6c6c6" text-anchor="middle">5</text>
<use href="#cal" x="1081.4" y="743.1"/>
<text x="1081.4" y="747.2" font-size="8.5" fill="#c6c6c6" text-anchor="middle">4</text>
<use href="#cal" x="1189.8" y="743.1"/>
<text x="1189.8" y="747.2" font-size="8.5" fill="#c6c6c6" text-anchor="middle">4</text>
<use href="#cal" x="1244.0" y="743.1"/>
<text x="1244.0" y="747.2" font-size="8.5" fill="#c6c6c6" text-anchor="middle">6</text>
<rect x="0" y="759" width="1498" height="41" fill="#dcdcdc"/>
<rect x="1401.5" y="759" width="85.3" height="41" fill="#fff"/><rect x="1401.5" y="759" width="85.3" height="1" fill="#d4d4d4"/>
<rect x="59" y="759" width="1" height="41" fill="#cfcfcf"/>
<rect x="59" y="800" width="1" height="5" fill="#666"/>
<text x="59.5" y="816" font-size="12.6" fill="#555" text-anchor="middle">2017</text>
<rect x="251" y="759" width="1" height="41" fill="#cfcfcf"/>
<rect x="251" y="800" width="1" height="5" fill="#666"/>
<text x="251.5" y="816" font-size="12.6" fill="#555" text-anchor="middle">2018</text>
<rect x="444" y="759" width="1" height="41" fill="#cfcfcf"/>
<rect x="444" y="800" width="1" height="5" fill="#666"/>
<text x="444.5" y="816" font-size="12.6" fill="#555" text-anchor="middle">2019</text>
<rect x="635" y="759" width="1" height="41" fill="#cfcfcf"/>
<rect x="635" y="800" width="1" height="5" fill="#666"/>
<text x="635.5" y="816" font-size="12.6" fill="#555" text-anchor="middle">2020</text>
<rect x="826" y="759" width="1" height="41" fill="#cfcfcf"/>
<rect x="826" y="800" width="1" height="5" fill="#666"/>
<text x="826.5" y="816" font-size="12.6" fill="#555" text-anchor="middle">2021</text>
<rect x="1020" y="759" width="1" height="41" fill="#cfcfcf"/>
<rect x="1020" y="800" width="1" height="5" fill="#666"/>
<text x="1020.5" y="816" font-size="12.6" fill="#555" text-anchor="middle">2022</text>
<rect x="1211" y="759" width="1" height="41" fill="#cfcfcf"/>
<rect x="1211" y="800" width="1" height="5" fill="#666"/>
<text x="1211.5" y="816" font-size="12.6" fill="#555" text-anchor="middle">2023</text>
<rect x="1402" y="759" width="1" height="41" fill="#cfcfcf"/>
<rect x="1402" y="800" width="1" height="5" fill="#666"/>
<text x="1402.5" y="816" font-size="12.6" fill="#555" text-anchor="middle">2024</text>
<text x="13.3" y="816" font-size="12.6" fill="#555" text-anchor="end">16</text>
<rect x="0" y="800" width="1498" height="1" fill="#808080"/>
<path d="M0,779.1h2v2.8h-2zM6,778.2h2v2.8h-2zM13,778.1h3v2.8h-3zM20,777.7h2v2.8h-2zM23,777.7h3v2.8h-3zM27,778.1h3v2.8h-3zM33,778.6h2v2.8h-2zM35,778.7h2v2.8h-2zM38,779.6h2v2.8h-2zM44,779.3h2v2.8h-2zM46,779.0h1v2.8h-1zM47,778.7h1v2.8h-1zM51,778.5h2v2.8h-2zM56,777.6h2v2.8h-2zM58,777.0h2v2.8h-2zM60,777.0h2v2.8h-2zM65,777.2h2v2.8h-2zM67,777.5h2v2.8h-2zM70,777.6h3v2.8h-3zM77,777.3h2v2.8h-2zM83,776.3h1v2.8h-1zM84,776.5h2v2.8h-2zM86,776.7h1v2.8h-1zM89,776.0h2v2.8h-2zM91,775.6h2v2.8h-2zM94,775.8h3v2.8h-3zM97,775.5h1v2.8h-1zM100,775.8h3v2.8h-3zM103,776.6h2v2.8h-2zM114,776.6h2v2.8h-2zM116,776.7h3v2.8h-3zM119,776.4h1v2.8h-1zM122,777.2h2v2.8h-2zM132,775.9h2v2.8h-2zM137,775.3h2v2.8h-2zM144,775.6h3v2.8h-3zM150,775.9h2v2.8h-2zM160,776.2h1v2.8h-1zM164,775.8h2v2.8h-2zM166,776.5h2v2.8h-2zM176,776.5h2v2.8h-2zM178,775.7h2v2.8h-2zM180,776.6h2v2.8h-2zM183,776.2h2v2.8h-2zM188,776.7h3v2.8h-3zM191,776.6h3v2.8h-3zM195,776.3h2v2.8h-2zM197,776.4h1v2.8h-1zM198,776.8h2v2.8h-2zM202,775.9h2v2.8h-2zM204,776.0h2v2.8h-2zM207,775.6h1v2.8h-1zM210,776.2h3v2.8h-3zM215,775.2h2v2.8h-2zM219,776.0h2v2.8h-2zM222,775.6h2v2.8h-2zM224,776.1h2v2.8h-2zM233,777.0h1v2.8h-1zM239,775.7h2v2.8h-2zM242,775.1h3v2.8h-3zM247,775.2h2v2.8h-2zM251,774.0h3v2.8h-3zM269,776.2h2v2.8h-2zM274,776.4h1v2.8h-1zM278,776.5h2v2.8h-2zM282,777.4h2v2.8h-2zM286,777.2h2v2.8h-2zM295,777.3h2v2.8h-2zM297,777.9h2v2.8h-2zM299,777.8h2v2.8h-2zM304,777.0h2v2.8h-2zM307,776.3h2v2.8h-2zM309,775.5h1v2.8h-1zM312,775.3h2v2.8h-2zM320,774.1h2v2.8h-2zM323,774.2h2v2.8h-2zM325,773.7h1v2.8h-1zM326,773.8h2v2.8h-2zM328,773.9h2v2.8h-2zM331,774.5h2v2.8h-2zM337,774.2h3v2.8h-3zM344,774.7h2v2.8h-2zM347,774.7h3v2.8h-3zM350,774.7h2v2.8h-2zM355,774.3h2v2.8h-2zM357,774.4h1v2.8h-1zM361,774.8h2v2.8h-2zM367,773.9h1v2.8h-1zM370,774.4h1v2.8h-1zM371,774.7h2v2.8h-2zM374,775.6h3v2.8h-3zM379,775.9h2v2.8h-2zM392,774.8h3v2.8h-3zM395,775.2h2v2.8h-2zM409,777.6h2v2.8h-2zM415,777.7h2v2.8h-2zM419,778.8h2v2.8h-2zM426,778.7h3v2.8h-3zM437,779.0h2v2.8h-2zM442,779.7h2v2.8h-2zM450,778.5h2v2.8h-2zM455,778.3h1v2.8h-1zM458,777.9h1v2.8h-1zM461,777.1h1v2.8h-1zM462,777.3h2v2.8h-2zM464,777.0h2v2.8h-2zM466,777.5h1v2.8h-1zM474,777.2h1v2.8h-1zM476,777.6h2v2.8h-2zM479,776.5h2v2.8h-2zM481,777.0h2v2.8h-2zM483,776.4h1v2.8h-1zM487,775.9h2v2.8h-2zM492,775.5h2v2.8h-2zM494,775.2h2v2.8h-2zM496,775.9h2v2.8h-2zM501,775.2h3v2.8h-3zM506,776.0h1v2.8h-1zM510,776.5h2v2.8h-2zM512,776.3h1v2.8h-1zM516,776.6h3v2.8h-3zM524,775.6h2v2.8h-2zM530,775.3h1v2.8h-1zM533,774.9h2v2.8h-2zM538,774.7h3v2.8h-3zM542,774.1h2v2.8h-2zM547,775.2h2v2.8h-2zM549,775.5h1v2.8h-1zM550,775.9h2v2.8h-2zM552,776.3h3v2.8h-3zM559,776.7h2v2.8h-2zM564,777.4h2v2.8h-2zM568,776.8h2v2.8h-2zM571,776.5h3v2.8h-3zM574,776.2h3v2.8h-3zM580,775.6h2v2.8h-2zM590,776.6h1v2.8h-1zM591,776.5h2v2.8h-2zM595,777.0h3v2.8h-3zM599,776.6h3v2.8h-3zM606,776.5h2v2.8h-2zM608,775.9h2v2.8h-2zM610,775.8h1v2.8h-1zM613,776.1h1v2.8h-1zM616,775.2h2v2.8h-2zM618,774.9h3v2.8h-3zM625,774.5h2v2.8h-2zM628,774.3h1v2.8h-1zM632,774.1h3v2.8h-3zM637,774.0h2v2.8h-2zM649,774.9h1v2.8h-1zM653,775.5h3v2.8h-3zM665,779.2h2v2.8h-2zM677,787.0h3v2.8h-3zM680,786.6h2v2.8h-2zM684,785.2h3v2.8h-3zM695,784.1h1v2.8h-1zM696,784.7h1v2.8h-1zM698,784.1h3v2.8h-3zM701,783.4h3v2.8h-3zM709,782.3h1v2.8h-1zM717,779.7h2v2.8h-2zM721,780.3h1v2.8h-1zM723,781.3h3v2.8h-3zM729,782.2h3v2.8h-3zM732,781.7h2v2.8h-2zM739,781.9h1v2.8h-1zM750,782.1h2v2.8h-2zM755,782.3h2v2.8h-2zM760,782.8h2v2.8h-2zM768,783.8h2v2.8h-2zM774,783.2h2v2.8h-2zM776,783.8h1v2.8h-1zM783,783.2h2v2.8h-2zM787,784.2h2v2.8h-2zM789,784.8h3v2.8h-3zM792,785.1h2v2.8h-2zM795,783.9h2v2.8h-2zM799,782.4h3v2.8h-3zM802,781.7h2v2.8h-2zM809,780.6h2v2.8h-2zM812,780.3h2v2.8h-2zM820,779.1h2v2.8h-2zM824,779.3h2v2.8h-2zM830,778.7h2v2.8h-2zM832,779.0h2v2.8h-2zM836,779.5h2v2.8h-2zM841,779.8h2v2.8h-2zM844,779.7h3v2.8h-3zM849,780.2h3v2.8h-3zM852,780.1h1v2.8h-1zM858,779.1h2v2.8h-2zM861,779.3h2v2.8h-2zM873,778.6h2v2.8h-2zM877,778.4h3v2.8h-3zM882,777.8h2v2.8h-2zM884,777.6h2v2.8h-2zM887,777.5h2v2.8h-2zM892,777.5h1v2.8h-1zM900,777.6h3v2.8h-3zM904,777.1h2v2.8h-2zM907,777.6h1v2.8h-1zM908,777.5h2v2.8h-2zM917,777.8h3v2.8h-3zM923,777.5h2v2.8h-2zM929,777.8h1v2.8h-1zM937,778.1h2v2.8h-2zM939,777.2h1v2.8h-1zM946,777.6h2v2.8h-2zM954,777.7h2v2.8h-2zM959,777.6h2v2.8h-2zM966,777.7h2v2.8h-2zM969,778.3h3v2.8h-3zM972,778.0h3v2.8h-3zM976,776.9h2v2.8h-2zM978,777.2h2v2.8h-2zM983,776.9h1v2.8h-1zM988,776.4h2v2.8h-2zM992,777.2h2v2.8h-2zM996,776.6h2v2.8h-2zM999,777.4h3v2.8h-3zM1011,776.8h1v2.8h-1zM1012,776.5h1v2.8h-1zM1014,776.1h3v2.8h-3zM1018,775.5h2v2.8h-2zM1021,775.1h2v2.8h-2zM1023,774.9h1v2.8h-1zM1028,774.8h1v2.8h-1zM1040,775.4h2v2.8h-2zM1046,776.3h2v2.8h-2zM1055,777.1h2v2.8h-2zM1057,776.3h2v2.8h-2zM1066,775.3h2v2.8h-2zM1069,775.4h2v2.8h-2zM1073,774.7h2v2.8h-2zM1076,774.8h2v2.8h-2zM1079,775.3h1v2.8h-1zM1082,774.8h2v2.8h-2zM1089,775.1h2v2.8h-2zM1096,774.7h2v2.8h-2zM1099,774.6h1v2.8h-1zM1100,775.4h2v2.8h-2zM1103,776.6h2v2.8h-2zM1106,777.4h2v2.8h-2zM1109,777.5h2v2.8h-2zM1116,777.1h2v2.8h-2zM1120,776.6h2v2.8h-2zM1122,775.9h2v2.8h-2zM1133,776.1h3v2.8h-3zM1136,775.4h2v2.8h-2zM1141,775.8h1v2.8h-1zM1142,776.3h2v2.8h-2zM1145,776.2h3v2.8h-3zM1154,776.9h2v2.8h-2zM1156,776.5h3v2.8h-3zM1161,777.4h2v2.8h-2zM1170,778.2h2v2.8h-2zM1177,777.2h2v2.8h-2zM1181,775.8h2v2.8h-2zM1183,776.0h3v2.8h-3zM1187,775.7h2v2.8h-2zM1192,775.7h2v2.8h-2zM1197,775.5h3v2.8h-3zM1202,774.7h2v2.8h-2zM1207,775.4h3v2.8h-3zM1213,774.6h2v2.8h-2zM1218,773.0h2v2.8h-2zM1222,773.1h2v2.8h-2zM1226,772.1h1v2.8h-1zM1227,772.5h2v2.8h-2zM1231,771.4h2v2.8h-2zM1233,772.0h2v2.8h-2zM1236,771.7h3v2.8h-3zM1244,772.8h2v2.8h-2zM1253,775.2h2v2.8h-2zM1261,774.1h3v2.8h-3zM1268,774.1h3v2.8h-3zM1271,773.8h3v2.8h-3zM1275,773.4h1v2.8h-1zM1281,773.4h2v2.8h-2zM1283,774.2h1v2.8h-1zM1288,774.5h2v2.8h-2zM1297,775.1h2v2.8h-2zM1299,774.7h2v2.8h-2zM1304,776.0h2v2.8h-2zM1309,775.4h2v2.8h-2zM1315,775.1h2v2.8h-2zM1317,775.0h2v2.8h-2zM1322,775.4h2v2.8h-2zM1328,775.8h2v2.8h-2zM1330,776.8h2v2.8h-2zM1334,775.7h3v2.8h-3zM1340,775.6h2v2.8h-2zM1345,774.9h2v2.8h-2zM1348,774.7h3v2.8h-3zM1361,775.8h2v2.8h-2zM1367,776.0h2v2.8h-2zM1376,776.0h1v2.8h-1zM1377,775.8h1v2.8h-1zM1378,775.3h2v2.8h-2zM1380,775.3h2v2.8h-2zM1382,775.8h2v2.8h-2zM1389,775.3h2v2.8h-2zM1392,775.1h3v2.8h-3zM1397,774.1h2v2.8h-2zM1402,774.2h2v2.8h-2zM1410,774.8h2v2.8h-2zM1414,774.9h2v2.8h-2zM1418,775.2h2v2.8h-2zM1420,774.7h1v2.8h-1zM1424,774.1h3v2.8h-3zM1429,774.6h3v2.8h-3zM1441,773.4h2v2.8h-2zM1446,772.3h2v2.8h-2zM1454,771.5h1v2.8h-1zM1458,771.1h2v2.8h-2zM1461,771.1h3v2.8h-3zM1466,769.9h2v2.8h-2zM1468,770.1h2v2.8h-2zM1470,770.6h2v2.8h-2zM1477,770.7h3v2.8h-3zM1483,770.6h2v2.8h-2zM45,778.3h1v1.2h-1zM47,777.7h1v1.2h-1zM85,775.5h1v1.2h-1zM90,775.0h1v1.2h-1zM97,774.5h1v1.2h-1zM115,775.6h1v1.2h-1zM117,775.7h1v1.2h-1zM165,774.8h1v1.2h-1zM192,775.6h1v1.2h-1zM197,775.4h1v1.2h-1zM205,775.0h1v1.2h-1zM207,774.6h1v1.2h-1zM220,775.0h1v1.2h-1zM225,775.1h1v1.2h-1zM240,774.7h1v1.2h-1zM252,773.0h1v1.2h-1zM270,775.2h1v1.2h-1zM300,776.8h1v1.2h-1zM305,776.0h1v1.2h-1zM345,773.7h1v1.2h-1zM357,773.4h1v1.2h-1zM367,772.9h1v1.2h-1zM380,774.9h1v1.2h-1zM410,776.6h1v1.2h-1zM420,777.8h1v1.2h-1zM427,777.7h1v1.2h-1zM465,776.0h1v1.2h-1zM480,775.5h1v1.2h-1zM495,774.2h1v1.2h-1zM502,774.2h1v1.2h-1zM512,775.3h1v1.2h-1zM517,775.6h1v1.2h-1zM525,774.6h1v1.2h-1zM560,775.7h1v1.2h-1zM565,776.4h1v1.2h-1zM572,775.5h1v1.2h-1zM702,782.4h1v1.2h-1zM775,782.2h1v1.2h-1zM810,779.6h1v1.2h-1zM825,778.3h1v1.2h-1zM852,779.1h1v1.2h-1zM885,776.6h1v1.2h-1zM892,776.5h1v1.2h-1zM905,776.1h1v1.2h-1zM907,776.6h1v1.2h-1zM955,776.7h1v1.2h-1zM960,776.6h1v1.2h-1zM1012,775.5h1v1.2h-1zM1070,774.4h1v1.2h-1zM1090,774.1h1v1.2h-1zM1110,776.5h1v1.2h-1zM1155,775.9h1v1.2h-1zM1157,775.5h1v1.2h-1zM1237,770.7h1v1.2h-1zM1245,771.8h1v1.2h-1zM1262,773.1h1v1.2h-1zM1272,772.8h1v1.2h-1zM1300,773.7h1v1.2h-1zM1305,775.0h1v1.2h-1zM1310,774.4h1v1.2h-1zM1377,774.8h1v1.2h-1zM1390,774.3h1v1.2h-1zM1415,773.9h1v1.2h-1zM1462,770.1h1v1.2h-1z" fill="#12808c" shape-rendering="crispEdges"/>
<path d="M3,778.8h3v2.8h-3zM9,777.4h1v2.8h-1zM10,777.8h2v2.8h-2zM17,777.1h2v2.8h-2zM26,778.2h1v2.8h-1zM30,778.3h2v2.8h-2zM37,778.7h1v2.8h-1zM41,779.7h3v2.8h-3zM48,778.5h2v2.8h-2zM50,778.3h1v2.8h-1zM54,778.2h2v2.8h-2zM62,776.9h1v2.8h-1zM63,777.0h2v2.8h-2zM69,777.9h1v2.8h-1zM74,777.1h2v2.8h-2zM80,776.4h3v2.8h-3zM87,775.7h2v2.8h-2zM98,775.6h2v2.8h-2zM105,776.4h2v2.8h-2zM107,776.5h1v2.8h-1zM109,776.7h3v2.8h-3zM112,776.6h2v2.8h-2zM120,776.4h2v2.8h-2zM124,777.0h2v2.8h-2zM126,775.9h2v2.8h-2zM128,775.7h2v2.8h-2zM130,775.7h2v2.8h-2zM134,775.9h1v2.8h-1zM135,775.0h2v2.8h-2zM139,774.4h3v2.8h-3zM142,775.1h2v2.8h-2zM147,775.4h3v2.8h-3zM153,776.1h2v2.8h-2zM155,776.0h2v2.8h-2zM157,775.6h1v2.8h-1zM159,776.1h1v2.8h-1zM161,775.9h3v2.8h-3zM169,775.7h2v2.8h-2zM171,776.0h1v2.8h-1zM173,776.5h2v2.8h-2zM185,776.6h2v2.8h-2zM200,776.9h2v2.8h-2zM208,775.6h1v2.8h-1zM213,775.4h1v2.8h-1zM217,775.2h2v2.8h-2zM221,776.0h1v2.8h-1zM226,776.0h3v2.8h-3zM229,776.7h2v2.8h-2zM231,777.1h2v2.8h-2zM234,776.8h2v2.8h-2zM236,776.1h3v2.8h-3zM241,776.3h1v2.8h-1zM245,774.8h2v2.8h-2zM249,775.2h1v2.8h-1zM254,774.6h2v2.8h-2zM256,774.1h2v2.8h-2zM258,773.8h2v2.8h-2zM260,773.8h2v2.8h-2zM263,775.0h3v2.8h-3zM266,775.9h2v2.8h-2zM268,776.2h1v2.8h-1zM271,776.7h1v2.8h-1zM273,777.0h1v2.8h-1zM275,776.9h3v2.8h-3zM280,777.1h2v2.8h-2zM284,777.2h1v2.8h-1zM288,776.7h3v2.8h-3zM292,776.8h2v2.8h-2zM302,776.9h2v2.8h-2zM306,775.9h1v2.8h-1zM310,775.1h2v2.8h-2zM314,775.1h2v2.8h-2zM317,773.8h2v2.8h-2zM319,773.7h1v2.8h-1zM333,774.3h1v2.8h-1zM334,773.9h2v2.8h-2zM340,774.6h2v2.8h-2zM342,774.2h2v2.8h-2zM353,774.3h2v2.8h-2zM358,774.2h3v2.8h-3zM364,774.4h3v2.8h-3zM368,774.1h2v2.8h-2zM377,775.0h1v2.8h-1zM378,775.7h1v2.8h-1zM382,776.4h2v2.8h-2zM384,776.1h2v2.8h-2zM386,775.3h2v2.8h-2zM389,774.9h3v2.8h-3zM397,775.5h2v2.8h-2zM400,775.7h2v2.8h-2zM403,776.5h2v2.8h-2zM406,777.3h2v2.8h-2zM408,777.3h1v2.8h-1zM411,777.6h3v2.8h-3zM417,778.3h2v2.8h-2zM422,778.6h3v2.8h-3zM430,779.6h2v2.8h-2zM432,779.9h1v2.8h-1zM433,779.4h2v2.8h-2zM435,779.3h2v2.8h-2zM440,779.9h1v2.8h-1zM444,779.5h2v2.8h-2zM447,778.6h3v2.8h-3zM452,777.9h2v2.8h-2zM456,777.7h2v2.8h-2zM459,777.7h2v2.8h-2zM467,777.1h2v2.8h-2zM469,777.3h2v2.8h-2zM471,776.9h2v2.8h-2zM478,776.9h1v2.8h-1zM484,776.7h2v2.8h-2zM489,775.5h3v2.8h-3zM499,775.0h2v2.8h-2zM504,775.6h2v2.8h-2zM507,775.9h2v2.8h-2zM513,776.3h3v2.8h-3zM519,776.5h3v2.8h-3zM522,776.2h2v2.8h-2zM526,775.4h2v2.8h-2zM528,775.7h2v2.8h-2zM532,775.9h1v2.8h-1zM536,775.2h2v2.8h-2zM544,775.0h2v2.8h-2zM556,776.9h2v2.8h-2zM561,777.3h2v2.8h-2zM563,777.2h1v2.8h-1zM566,776.8h2v2.8h-2zM578,775.4h2v2.8h-2zM582,775.1h1v2.8h-1zM583,775.5h2v2.8h-2zM586,776.0h3v2.8h-3zM589,776.5h1v2.8h-1zM593,776.2h2v2.8h-2zM602,776.3h3v2.8h-3zM611,776.2h2v2.8h-2zM614,776.4h2v2.8h-2zM621,775.5h2v2.8h-2zM623,775.1h2v2.8h-2zM627,774.1h1v2.8h-1zM629,773.8h3v2.8h-3zM635,774.7h2v2.8h-2zM640,774.3h2v2.8h-2zM643,774.7h3v2.8h-3zM646,775.0h3v2.8h-3zM650,775.3h2v2.8h-2zM657,775.4h2v2.8h-2zM659,775.0h2v2.8h-2zM661,776.0h2v2.8h-2zM663,776.8h2v2.8h-2zM668,781.4h1v2.8h-1zM670,783.1h2v2.8h-2zM672,785.3h2v2.8h-2zM674,786.8h2v2.8h-2zM682,785.5h2v2.8h-2zM687,784.7h1v2.8h-1zM688,784.3h2v2.8h-2zM690,784.1h3v2.8h-3zM694,784.1h1v2.8h-1zM704,782.9h2v2.8h-2zM707,783.0h1v2.8h-1zM708,782.4h1v2.8h-1zM710,781.6h2v2.8h-2zM713,780.4h2v2.8h-2zM715,780.4h2v2.8h-2zM719,780.1h2v2.8h-2zM722,780.5h1v2.8h-1zM726,780.8h1v2.8h-1zM727,781.5h2v2.8h-2zM735,782.6h1v2.8h-1zM736,781.9h1v2.8h-1zM737,782.3h2v2.8h-2zM740,782.0h3v2.8h-3zM743,781.7h2v2.8h-2zM745,781.9h3v2.8h-3zM748,782.0h2v2.8h-2zM752,782.2h3v2.8h-3zM757,782.4h3v2.8h-3zM762,783.6h2v2.8h-2zM764,782.9h2v2.8h-2zM766,783.7h2v2.8h-2zM770,782.9h2v2.8h-2zM772,783.4h2v2.8h-2zM777,783.6h3v2.8h-3zM780,783.6h3v2.8h-3zM785,783.8h2v2.8h-2zM797,783.6h2v2.8h-2zM804,781.3h2v2.8h-2zM806,780.8h2v2.8h-2zM808,781.0h1v2.8h-1zM814,779.7h3v2.8h-3zM817,780.2h3v2.8h-3zM822,779.4h2v2.8h-2zM826,778.8h2v2.8h-2zM828,778.8h2v2.8h-2zM834,779.4h2v2.8h-2zM838,779.4h2v2.8h-2zM840,780.2h1v2.8h-1zM843,779.6h1v2.8h-1zM847,779.6h2v2.8h-2zM853,779.9h2v2.8h-2zM855,779.2h2v2.8h-2zM860,779.8h1v2.8h-1zM863,779.0h1v2.8h-1zM864,779.4h2v2.8h-2zM866,779.1h2v2.8h-2zM869,778.2h2v2.8h-2zM871,778.1h2v2.8h-2zM875,778.3h2v2.8h-2zM880,778.0h2v2.8h-2zM889,778.0h2v2.8h-2zM893,777.2h3v2.8h-3zM897,777.4h2v2.8h-2zM899,777.8h1v2.8h-1zM903,777.6h1v2.8h-1zM910,777.0h2v2.8h-2zM913,777.9h3v2.8h-3zM920,778.0h2v2.8h-2zM922,777.7h1v2.8h-1zM926,777.3h2v2.8h-2zM930,777.3h1v2.8h-1zM931,777.5h2v2.8h-2zM933,777.6h2v2.8h-2zM935,777.3h2v2.8h-2zM941,777.4h3v2.8h-3zM944,777.9h2v2.8h-2zM948,777.7h2v2.8h-2zM950,777.4h2v2.8h-2zM952,777.8h2v2.8h-2zM956,777.8h3v2.8h-3zM961,778.1h2v2.8h-2zM963,777.7h2v2.8h-2zM968,777.6h1v2.8h-1zM975,777.4h1v2.8h-1zM981,776.5h2v2.8h-2zM984,776.8h3v2.8h-3zM990,776.6h2v2.8h-2zM994,776.7h1v2.8h-1zM998,776.7h1v2.8h-1zM1002,777.6h2v2.8h-2zM1004,776.7h3v2.8h-3zM1008,776.5h2v2.8h-2zM1013,776.3h1v2.8h-1zM1024,774.9h2v2.8h-2zM1026,774.8h2v2.8h-2zM1029,774.4h2v2.8h-2zM1031,774.9h2v2.8h-2zM1033,774.2h2v2.8h-2zM1035,775.1h1v2.8h-1zM1036,775.5h2v2.8h-2zM1038,775.5h2v2.8h-2zM1043,775.9h2v2.8h-2zM1048,776.8h2v2.8h-2zM1051,777.5h3v2.8h-3zM1059,776.7h2v2.8h-2zM1062,775.7h2v2.8h-2zM1064,775.0h2v2.8h-2zM1068,775.1h1v2.8h-1zM1071,774.6h2v2.8h-2zM1080,775.2h2v2.8h-2zM1085,775.2h3v2.8h-3zM1091,774.6h2v2.8h-2zM1093,774.4h2v2.8h-2zM1098,774.9h1v2.8h-1zM1102,775.4h1v2.8h-1zM1105,776.9h1v2.8h-1zM1108,778.0h1v2.8h-1zM1111,777.2h3v2.8h-3zM1114,776.6h1v2.8h-1zM1119,776.3h1v2.8h-1zM1124,776.4h2v2.8h-2zM1127,776.1h1v2.8h-1zM1128,776.5h2v2.8h-2zM1130,776.4h2v2.8h-2zM1139,775.7h2v2.8h-2zM1144,776.2h1v2.8h-1zM1148,776.0h3v2.8h-3zM1152,776.4h2v2.8h-2zM1159,777.2h2v2.8h-2zM1163,778.2h3v2.8h-3zM1166,778.5h2v2.8h-2zM1168,778.6h2v2.8h-2zM1173,777.6h3v2.8h-3zM1179,776.2h2v2.8h-2zM1189,776.1h3v2.8h-3zM1195,775.7h2v2.8h-2zM1200,775.2h2v2.8h-2zM1204,775.1h3v2.8h-3zM1210,775.0h3v2.8h-3zM1215,773.8h3v2.8h-3zM1220,772.8h2v2.8h-2zM1224,772.4h2v2.8h-2zM1229,772.0h2v2.8h-2zM1235,771.9h1v2.8h-1zM1239,772.2h2v2.8h-2zM1241,772.5h2v2.8h-2zM1246,773.3h3v2.8h-3zM1249,774.9h2v2.8h-2zM1251,775.4h2v2.8h-2zM1256,774.9h3v2.8h-3zM1259,774.2h1v2.8h-1zM1264,773.3h3v2.8h-3zM1274,773.8h1v2.8h-1zM1276,774.0h2v2.8h-2zM1279,773.8h1v2.8h-1zM1285,773.6h2v2.8h-2zM1290,774.0h3v2.8h-3zM1294,774.5h3v2.8h-3zM1301,775.2h3v2.8h-3zM1307,775.3h2v2.8h-2zM1311,775.6h2v2.8h-2zM1313,775.2h2v2.8h-2zM1320,775.0h2v2.8h-2zM1324,775.5h2v2.8h-2zM1326,775.9h2v2.8h-2zM1332,776.2h2v2.8h-2zM1337,776.0h3v2.8h-3zM1343,774.7h1v2.8h-1zM1351,774.5h2v2.8h-2zM1353,774.7h2v2.8h-2zM1355,775.3h2v2.8h-2zM1357,774.8h2v2.8h-2zM1359,774.8h2v2.8h-2zM1363,775.2h1v2.8h-1zM1364,775.2h2v2.8h-2zM1370,775.9h1v2.8h-1zM1371,775.8h3v2.8h-3zM1374,775.9h2v2.8h-2zM1384,775.9h3v2.8h-3zM1387,775.5h2v2.8h-2zM1395,774.8h2v2.8h-2zM1399,774.2h2v2.8h-2zM1404,774.9h2v2.8h-2zM1406,774.3h2v2.8h-2zM1408,774.8h2v2.8h-2zM1412,775.3h1v2.8h-1zM1416,774.7h2v2.8h-2zM1422,774.8h2v2.8h-2zM1427,774.8h2v2.8h-2zM1432,774.4h2v2.8h-2zM1435,774.1h1v2.8h-1zM1436,773.4h2v2.8h-2zM1438,774.0h1v2.8h-1zM1439,773.5h2v2.8h-2zM1443,772.6h3v2.8h-3zM1448,771.9h2v2.8h-2zM1450,772.6h2v2.8h-2zM1452,772.4h2v2.8h-2zM1456,771.0h2v2.8h-2zM1464,770.0h2v2.8h-2zM1472,770.2h2v2.8h-2zM1474,770.8h3v2.8h-3zM1481,770.2h2v2.8h-2zM37,777.7h1v1.2h-1zM42,778.7h1v1.2h-1zM55,777.2h1v1.2h-1zM62,775.9h1v1.2h-1zM75,776.1h1v1.2h-1zM107,775.5h1v1.2h-1zM125,776.0h1v1.2h-1zM157,774.6h1v1.2h-1zM162,774.9h1v1.2h-1zM170,774.7h1v1.2h-1zM227,775.0h1v1.2h-1zM230,775.7h1v1.2h-1zM235,775.8h1v1.2h-1zM237,775.1h1v1.2h-1zM255,773.6h1v1.2h-1zM315,774.1h1v1.2h-1zM335,772.9h1v1.2h-1zM377,774.0h1v1.2h-1zM385,775.1h1v1.2h-1zM412,776.6h1v1.2h-1zM432,778.9h1v1.2h-1zM445,778.5h1v1.2h-1zM460,776.7h1v1.2h-1zM470,776.3h1v1.2h-1zM485,775.7h1v1.2h-1zM500,774.0h1v1.2h-1zM505,774.6h1v1.2h-1zM532,774.9h1v1.2h-1zM545,774.0h1v1.2h-1zM582,774.1h1v1.2h-1zM587,775.0h1v1.2h-1zM615,775.4h1v1.2h-1zM627,773.1h1v1.2h-1zM647,774.0h1v1.2h-1zM660,774.0h1v1.2h-1zM675,785.8h1v1.2h-1zM687,783.7h1v1.2h-1zM705,781.9h1v1.2h-1zM707,782.0h1v1.2h-1zM720,779.1h1v1.2h-1zM722,779.5h1v1.2h-1zM765,781.9h1v1.2h-1zM805,780.3h1v1.2h-1zM835,778.4h1v1.2h-1zM865,778.4h1v1.2h-1zM870,777.2h1v1.2h-1zM890,777.0h1v1.2h-1zM922,776.7h1v1.2h-1zM942,776.4h1v1.2h-1zM945,776.9h1v1.2h-1zM957,776.8h1v1.2h-1zM1025,773.9h1v1.2h-1zM1030,773.4h1v1.2h-1zM1052,776.5h1v1.2h-1zM1060,775.7h1v1.2h-1zM1065,774.0h1v1.2h-1zM1102,774.4h1v1.2h-1zM1112,776.2h1v1.2h-1zM1125,775.4h1v1.2h-1zM1127,775.1h1v1.2h-1zM1140,774.7h1v1.2h-1zM1160,776.2h1v1.2h-1zM1180,775.2h1v1.2h-1zM1225,771.4h1v1.2h-1zM1230,771.0h1v1.2h-1zM1240,771.2h1v1.2h-1zM1247,772.3h1v1.2h-1zM1250,773.9h1v1.2h-1zM1257,773.9h1v1.2h-1zM1302,774.2h1v1.2h-1zM1325,774.5h1v1.2h-1zM1360,773.8h1v1.2h-1zM1365,774.2h1v1.2h-1zM1372,774.8h1v1.2h-1zM1375,774.9h1v1.2h-1zM1400,773.2h1v1.2h-1zM1405,773.9h1v1.2h-1zM1412,774.3h1v1.2h-1zM1440,772.5h1v1.2h-1zM1465,769.0h1v1.2h-1z" fill="#c22f3b" shape-rendering="crispEdges"/>
<rect x="1400.3" y="759" width="1.6" height="41" fill="#808080"/>
<rect x="1398.4" y="767.3" width="5.4" height="24.8" rx="2.7" fill="#969696"/>
<rect x="1486.3" y="759" width="1.6" height="41" fill="#808080"/>
<rect x="1484.4" y="767.3" width="5.4" height="24.8" rx="2.7" fill="#969696"/>
<rect x="1" y="762" width="14" height="14" fill="#fff"/>
<path d="M4.4,765.2L11.9,772.7M11.9,765.2L4.4,772.7" stroke="#979797" stroke-width="3" fill="none"/>
<path d="M1498,822L1492,828M1498,825L1495,828" stroke="#555" stroke-width="1.1"/>
<rect x="0" y="0" width="1498" height="35" fill="#000"/>
<rect x="7" y="6" width="22" height="22" fill="#fff"/>
<path d="M9,8.9h17.6M9,12.6h17.6M9,16.4h17.6M9,20.3h17.6M9,24.6h17.6" stroke="#e6e6e6" stroke-width="1.1"/>
<polyline points="9.8,23.7 14.6,13.6 19.3,18.5 25.7,10.7" fill="none" stroke="#00808f" stroke-width="1.9" stroke-linejoin="round"/>
<text x="38.8" y="21.7" font-size="12" fill="#fff" letter-spacing="1.4">UK 100, DAILY</text>
<circle cx="153.6" cy="14.6" r="3.5" fill="none" stroke="#fff" stroke-width="1.15"/><path d="M156.3,17.4L162.6,23" stroke="#fff" stroke-width="1.3"/>
<rect x="1427.8" y="22" width="13.3" height="2" fill="#e8e8e8"/>
<path d="M1459.1,17.4V15.1H1450.9V23H1459.1V20.8" fill="none" stroke="#e8e8e8" stroke-width="2"/>
<path d="M1455,19H1461" stroke="#e8e8e8" stroke-width="2"/><path d="M1460.4,16.1L1464.8,19L1460.4,21.9z" fill="#e8e8e8"/>
<path d="M1462,9.1v5.8M1459,12h6" stroke="#e8e8e8" stroke-width="2"/>
<path d="M1473.3,9.3L1487.8,23.8M1487.8,9.3L1473.3,23.8" stroke="#e0e0e0" stroke-width="1.5"/>
<text x="11.3" y="59" font-size="12.6" font-weight="bold" fill="#333" letter-spacing="0.25">Daily</text>
<path d="M48.0,52.6h9.4l-4.7,5.2z" fill="#5a5a5a"/>
<text x="78.0" y="59" font-size="12.6" font-weight="bold" fill="#333" letter-spacing="0.12">Technical</text>
<path d="M142.7,52.6h9.4l-4.7,5.2z" fill="#5a5a5a"/>
<text x="172.6" y="59" font-size="12.6" font-weight="bold" fill="#333" letter-spacing="0">Display</text>
<path d="M223.7,52.6h9.4l-4.7,5.2z" fill="#5a5a5a"/>
<text x="253.4" y="59" font-size="12.6" font-weight="bold" fill="#333" letter-spacing="0.6">More</text>
<path d="M290.9,52.6h9.4l-4.7,5.2z" fill="#5a5a5a"/>
<path d="M322.6,60V49.8a.8,.8 0 0 1 .8,-.8h3.4l1.4,1.6h5.2a.8,.8 0 0 1 .8,.8v1.8" fill="none" stroke="#333" stroke-width="1.2"/><path d="M322.8,60.4l3,-6.4h12l-3.2,6.4z" fill="#333"/>
<path d="M357.4,46.6h10.6l3.4,3.4v10.8a1.2,1.2 0 0 1 -1.2,1.2h-12.8a1.2,1.2 0 0 1 -1.2,-1.2v-13a1.2,1.2 0 0 1 1.2,-1.2z" fill="#333"/><rect x="358.6" y="55" width="10.4" height="5.4" fill="#fff"/><rect x="364.8" y="48.2" width="1.9" height="2.6" fill="#fff"/>
<rect x="389.1" y="52.8" width="13" height="2.8" fill="#111"/>
<rect x="421.2" y="52.8" width="13.1" height="2.8" fill="#111"/><rect x="426.35" y="47.6" width="2.8" height="13.2" fill="#111"/>
<text x="1184.2" y="59.6" font-size="12" fill="#222" letter-spacing="0.85">CURRENT PRICE:</text>
<rect x="1315" y="42" width="84" height="24" fill="#c0293a"/>
<rect x="1410" y="42" width="84" height="24" fill="#17899a"/>
<text x="1333.8" y="58.2" font-size="13" fill="#fff" letter-spacing="1.4">8192.<tspan font-size="10">8</tspan></text>
<text x="1429" y="58.2" font-size="13" fill="#fff" letter-spacing="1.4">8193.<tspan font-size="10">8</tspan></text>
<path d="M1323.2,43.5h3.4v4.6h2.4l-4.1,4.4-4.1,-4.4h2.4z" fill="#8e1424"/>
<path d="M1482.5,52.5h3.4v-4.6h2.4l-4.1,-4.4-4.1,4.4h2.4z" fill="#0c5f6c"/>
</svg></body></html>
